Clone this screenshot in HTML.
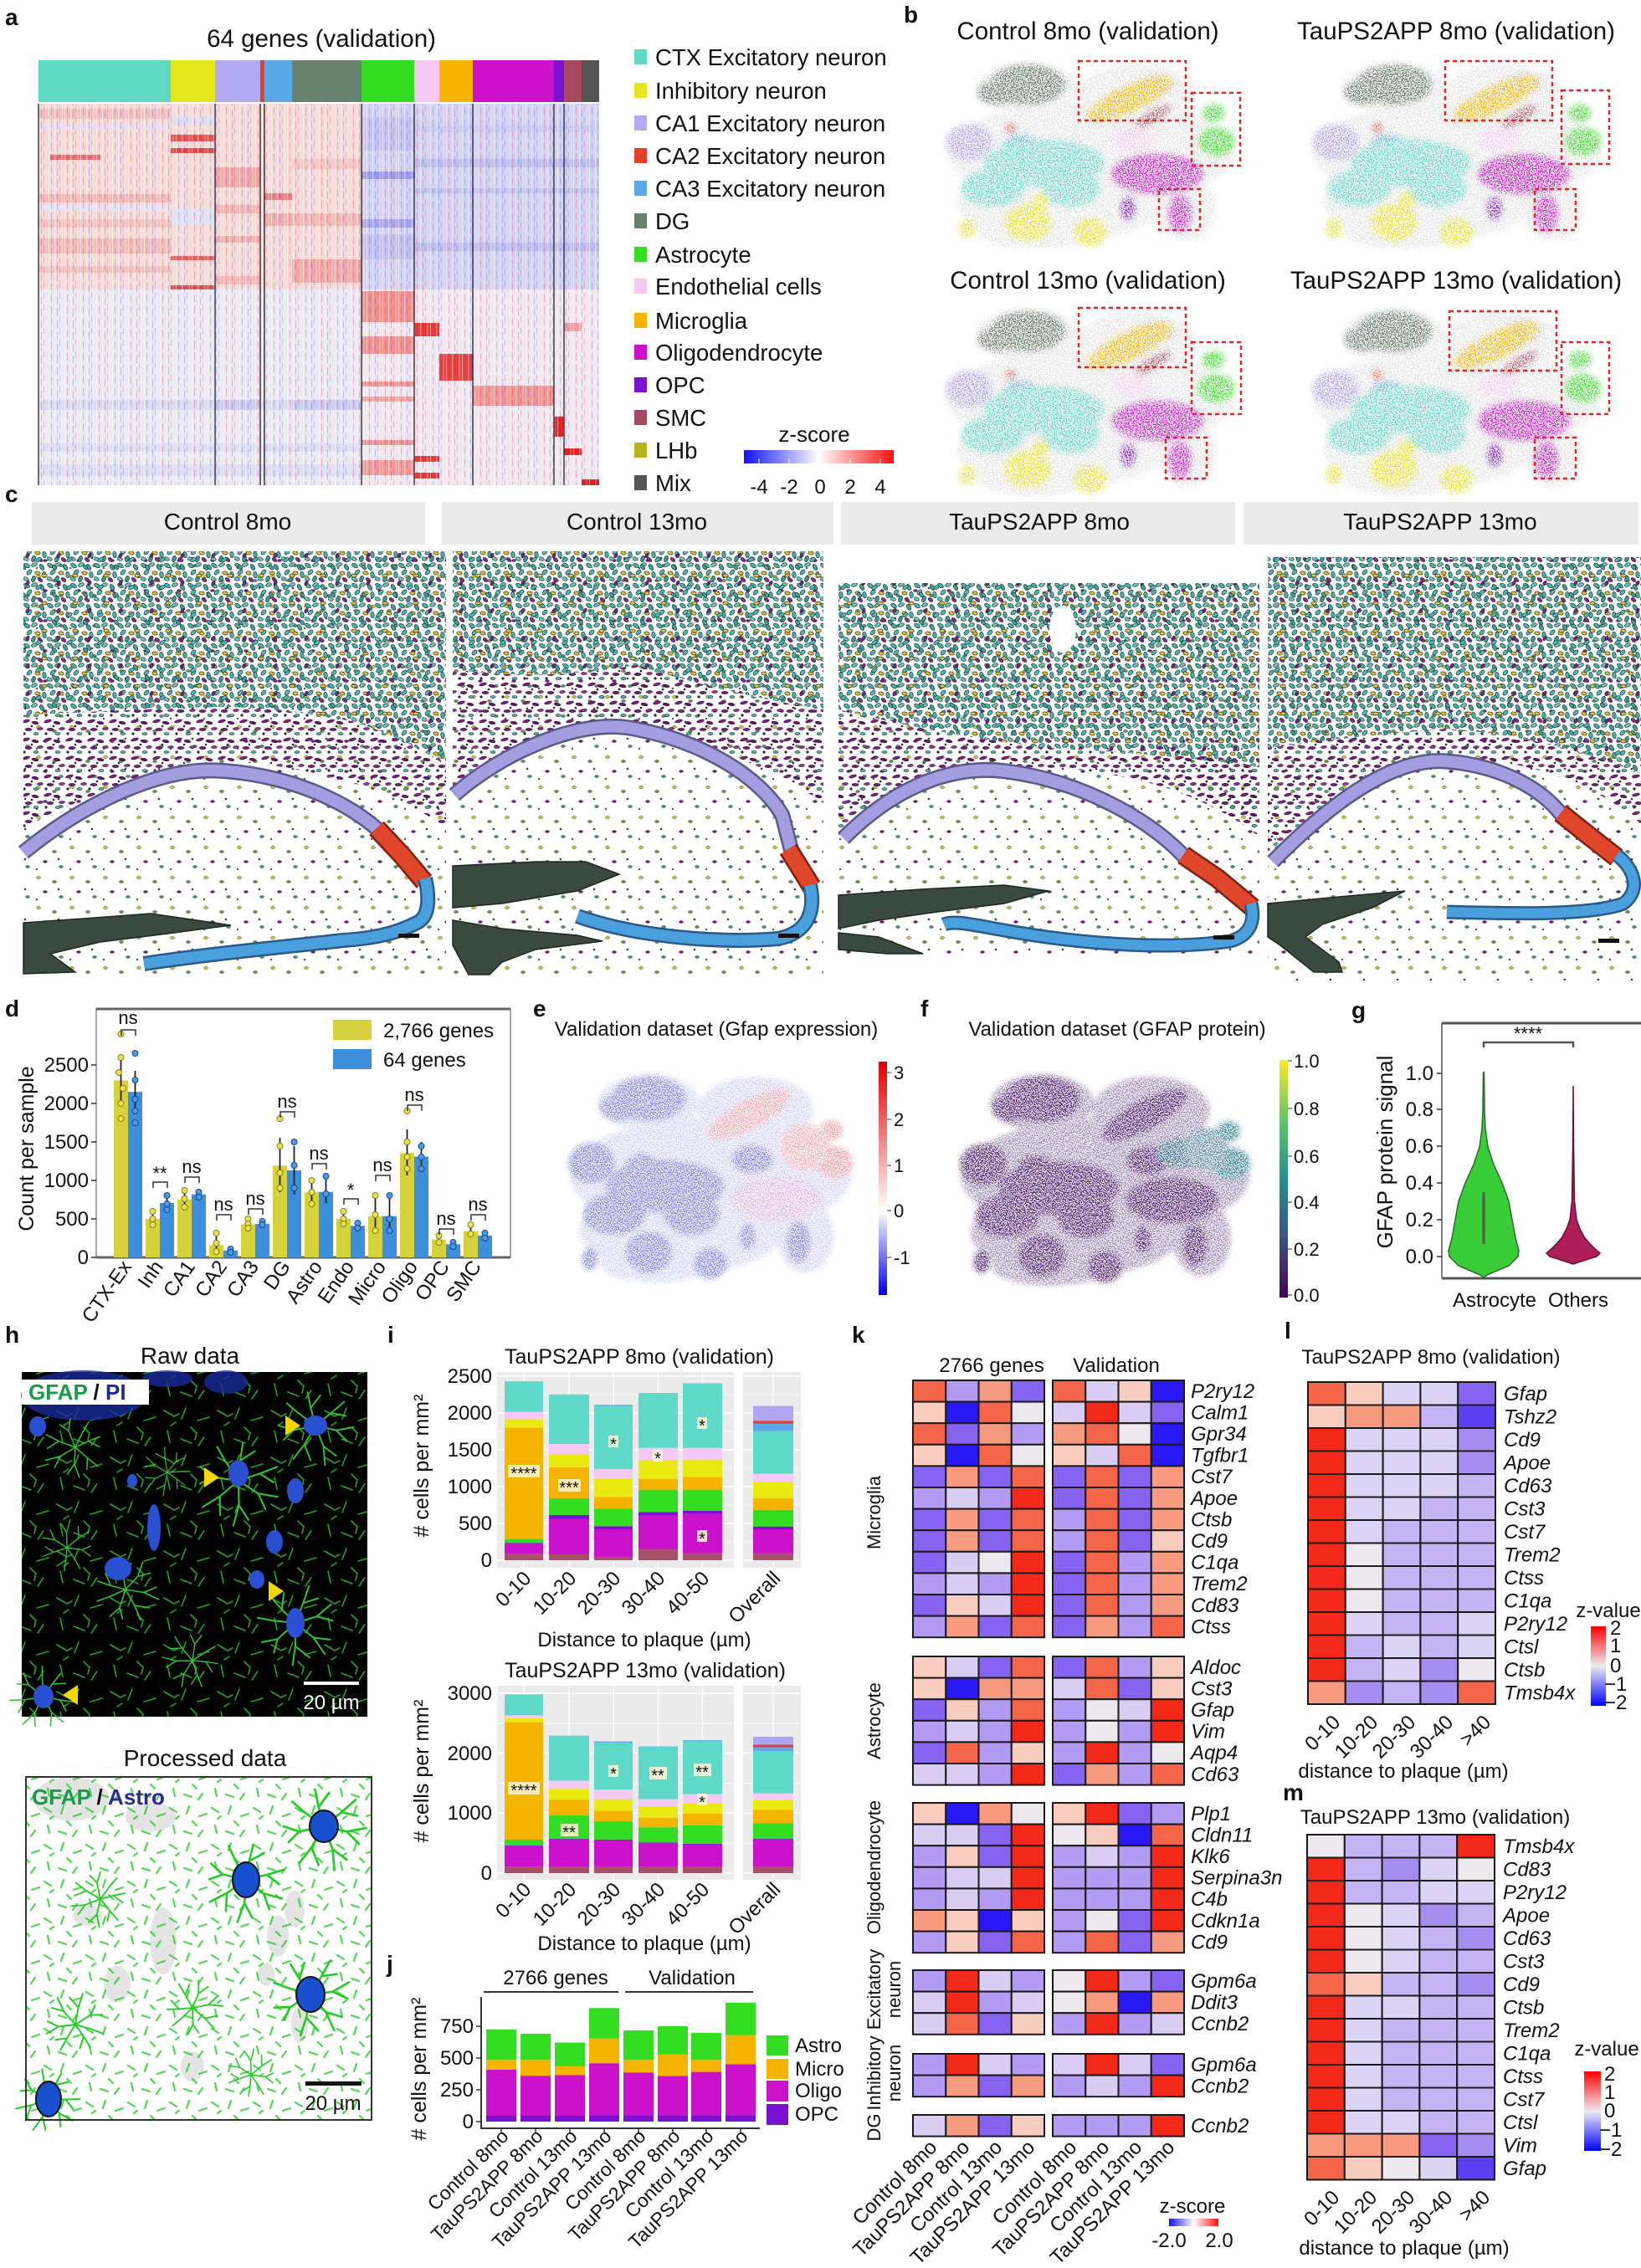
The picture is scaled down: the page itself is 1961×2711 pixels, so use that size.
<!DOCTYPE html>
<html><head><meta charset="utf-8"><style>
html,body{margin:0;padding:0;background:#fff}
svg{display:block}
text{font-family:"Liberation Sans",Arial,sans-serif;fill:#111}
.lab{font-weight:bold;font-size:28px}
.t30{font-size:29.5px}.t28{font-size:28px}.t27{font-size:27.5px}.t26{font-size:26px}.t25{font-size:25px}.t24{font-size:24px}.t23{font-size:23px}.t22{font-size:22px}.t20{font-size:20px}
.it{font-style:italic}.mid{text-anchor:middle}.end{text-anchor:end}
.hm rect{stroke:#1a1a1a;stroke-width:2}
.B{fill:#2a18f4}.b{fill:#8763f1}.p{fill:#b39af2}.l{fill:#d9cdf3}.w{fill:#ece8ee}.k{fill:#f8ccbe}.s{fill:#f89a80}.o{fill:#f5654a}.r{fill:#f22818}
.ll{fill:#dcd4f5}.lp{fill:#c4b4f3}.lb{fill:#a58cef}.lB{fill:#5b3ff0}
</style></head><body>
<svg width="1961" height="2711" viewBox="0 0 1961 2711" xmlns="http://www.w3.org/2000/svg" xmlns:xlink="http://www.w3.org/1999/xlink">
<defs>
<pattern id="hmtex" width="19" height="14" patternUnits="userSpaceOnUse">
<rect x="1" y="0" width="1" height="14" fill="#fff" opacity=".55"/>
<rect x="4" y="2" width="1" height="9" fill="#e03a3a" opacity=".3"/>
<rect x="8" y="0" width="1.3" height="14" fill="#fff" opacity=".45"/>
<rect x="11" y="5" width="1" height="9" fill="#3a3ae0" opacity=".25"/>
<rect x="14" y="0" width="1" height="7" fill="#e03a3a" opacity=".25"/>
<rect x="16.5" y="0" width="1" height="14" fill="#fff" opacity=".4"/>
</pattern>
<pattern id="ctxp" width="28" height="24" patternUnits="userSpaceOnUse">
<g stroke="#2a2a3a" stroke-width=".7">
<ellipse cx="4" cy="4" rx="3.8" ry="2.2" fill="#3fb8a8" transform="rotate(35 4 4)"/>
<ellipse cx="13" cy="3" rx="3.6" ry="2.1" fill="#5cc9bb" transform="rotate(-20 13 3)"/>
<ellipse cx="22" cy="6" rx="3.8" ry="2.2" fill="#35a898" transform="rotate(60 22 6)"/>
<ellipse cx="7" cy="12" rx="3.6" ry="2.2" fill="#48bfb0" transform="rotate(-45 7 12)"/>
<ellipse cx="17" cy="13" rx="3.2" ry="2" fill="#d8c820" transform="rotate(10 17 13)"/>
<ellipse cx="25" cy="15" rx="3.7" ry="2.2" fill="#3fb8a8" transform="rotate(80 25 15)"/>
<ellipse cx="3" cy="20" rx="3.4" ry="2.1" fill="#5cc9bb" transform="rotate(20 3 20)"/>
<ellipse cx="12" cy="20" rx="3.8" ry="2.2" fill="#2fa090" transform="rotate(-70 12 20)"/>
<ellipse cx="20" cy="21" rx="3.2" ry="1.9" fill="#8a2a90" transform="rotate(40 20 21)"/>
</g></pattern>
<pattern id="ctxq" width="37" height="33" patternUnits="userSpaceOnUse">
<g stroke="#2a2a3a" stroke-width=".7">
<ellipse cx="9" cy="9" rx="3.6" ry="2.1" fill="#45bcae" transform="rotate(-30 9 9)"/>
<ellipse cx="28" cy="18" rx="3.4" ry="2" fill="#3aa99a" transform="rotate(50 28 18)"/>
<ellipse cx="16" cy="28" rx="3.2" ry="2" fill="#e0c830" transform="rotate(0 16 28)"/>
<ellipse cx="33" cy="4" rx="3" ry="1.8" fill="#7a2080" transform="rotate(-60 33 4)"/>
</g></pattern>
<pattern id="wmp" width="26" height="22" patternUnits="userSpaceOnUse">
<g stroke="#2a1030" stroke-width=".6">
<ellipse cx="5" cy="4" rx="4.5" ry="1.6" fill="#8c1a8c" transform="rotate(-15 5 4)"/>
<ellipse cx="16" cy="6" rx="4" ry="1.6" fill="#6e127a" transform="rotate(10 16 6)"/>
<ellipse cx="22" cy="13" rx="3.5" ry="1.5" fill="#9a2aa0" transform="rotate(-5 22 13)"/>
<ellipse cx="8" cy="14" rx="4" ry="1.6" fill="#7a1a80"/>
<ellipse cx="17" cy="19" rx="3" ry="1.5" fill="#3fb8a8"/>
<circle cx="3" cy="19" r="1.3" fill="#333"/>
<circle cx="12" cy="10" r="1" fill="#333"/>
</g></pattern>
<pattern id="spp" width="40" height="36" patternUnits="userSpaceOnUse">
<g stroke="#333" stroke-width=".5">
<ellipse cx="6" cy="5" rx="2.5" ry="1.5" fill="#d0c820"/>
<ellipse cx="25" cy="10" rx="2.5" ry="1.5" fill="#5a9a40"/>
<ellipse cx="14" cy="22" rx="2.5" ry="1.5" fill="#7a1a80"/>
<ellipse cx="33" cy="28" rx="2.5" ry="1.5" fill="#3a9a70"/>
<circle cx="30" cy="19" r="1.1" fill="#444"/>
<circle cx="4" cy="31" r="1" fill="#8a7a30"/>
</g></pattern>
<pattern id="fibR" width="64" height="56" patternUnits="userSpaceOnUse">
<path d="M4,6 l12,7 l6,-3 M30,3 l-5,13 M44,18 l14,-4 M8,30 l3,14 M24,40 l13,5 M52,38 l-7,10 M36,26 l7,7 l-2,8 M18,20 l-6,4" stroke="#28a028" stroke-width="1.6" fill="none" stroke-linecap="round"/>
</pattern>
<pattern id="fibP" width="50" height="44" patternUnits="userSpaceOnUse">
<path d="M3,5 l8,5 M26,3 l-3,9 M38,15 l9,-3 M7,26 l2,9 M20,33 l9,3 M42,32 l-5,7 M30,21 l5,5 M14,15 l-4,3" stroke="#22cc22" stroke-width="2.2" fill="none" stroke-linecap="round"/>
</pattern>
<g id="ast"><path fill="none" d="M0,0 L-6,-22 L-10,-42 M-6,-22 L6,-38 M0,0 L20,-16 L36,-30 M20,-16 L38,-12 M0,0 L26,6 L48,2 M26,6 L40,20 M0,0 L10,26 L12,50 M10,26 L26,38 M0,0 L-14,24 L-28,42 M-14,24 L-6,44 M0,0 L-28,6 L-46,0 M-28,6 L-40,18 M0,0 L-22,-16 L-36,-28"/></g>
<filter id="spkB" filterUnits="userSpaceOnUse" x="1110" y="65" width="851" height="545" color-interpolation-filters="sRGB">
<feGaussianBlur in="SourceGraphic" stdDeviation="3.5" result="bl"/>
<feTurbulence type="fractalNoise" baseFrequency="0.7" numOctaves="1" seed="4" result="n"/>
<feColorMatrix in="n" type="matrix" values="0 0 0 0 0  0 0 0 0 0  0 0 0 0 0  6 0 0 0 -2.6" result="m"/>
<feComposite in="bl" in2="m" operator="in"/>
</filter>
<filter id="spkE" filterUnits="userSpaceOnUse" x="660" y="1270" width="860" height="280" color-interpolation-filters="sRGB">
<feGaussianBlur in="SourceGraphic" stdDeviation="3" result="bl"/>
<feTurbulence type="fractalNoise" baseFrequency="0.75" numOctaves="1" seed="7" result="n"/>
<feColorMatrix in="n" type="matrix" values="0 0 0 0 0  0 0 0 0 0  0 0 0 0 0  6 0 0 0 -2.5" result="m"/>
<feComposite in="bl" in2="m" operator="in"/>
</filter>
<g id="umbg">
<ellipse cx="100" cy="32" rx="62" ry="30"/><ellipse cx="230" cy="40" rx="70" ry="36"/><ellipse cx="175" cy="110" rx="172" ry="62"/><ellipse cx="140" cy="170" rx="125" ry="45"/><ellipse cx="110" cy="205" rx="70" ry="20"/><ellipse cx="290" cy="175" rx="35" ry="40"/>
</g>
<g id="umcl">
<ellipse cx="100" cy="28" rx="45" ry="24"/><ellipse cx="62" cy="38" rx="22" ry="14"/><ellipse cx="222" cy="45" rx="55" ry="16" transform="rotate(-25 222 45)"/><ellipse cx="322" cy="62" rx="14" ry="11"/><ellipse cx="326" cy="96" rx="22" ry="17"/><ellipse cx="30" cy="97" rx="28" ry="22"/><ellipse cx="92" cy="104" rx="22" ry="17"/><ellipse cx="226" cy="93" rx="25" ry="15"/><ellipse cx="120" cy="122" rx="72" ry="28"/><ellipse cx="58" cy="152" rx="38" ry="22"/><ellipse cx="152" cy="152" rx="34" ry="22"/><ellipse cx="255" cy="135" rx="55" ry="24"/><ellipse cx="282" cy="182" rx="14" ry="22"/><ellipse cx="220" cy="176" rx="9" ry="14"/><ellipse cx="28" cy="200" rx="10" ry="12"/><ellipse cx="100" cy="193" rx="28" ry="22"/><ellipse cx="175" cy="205" rx="20" ry="17"/>
</g>
<g id="um">
<use xlink:href="#umbg" fill="#cfcfcf" opacity=".6"/>
<ellipse cx="100" cy="28" rx="45" ry="24" fill="#5f7063"/>
<ellipse cx="62" cy="38" rx="22" ry="14" fill="#5f7063"/>
<ellipse cx="255" cy="28" rx="22" ry="14" fill="#c4c4c4"/>
<ellipse cx="222" cy="45" rx="55" ry="16" fill="#f2b000" transform="rotate(-25 222 45)"/>
<ellipse cx="250" cy="66" rx="24" ry="7" fill="#a84860" transform="rotate(-30 250 66)"/>
<ellipse cx="322" cy="62" rx="14" ry="11" fill="#33dd22"/>
<ellipse cx="326" cy="96" rx="22" ry="17" fill="#33dd22"/>
<ellipse cx="30" cy="97" rx="28" ry="22" fill="#a99ff2"/>
<ellipse cx="92" cy="104" rx="22" ry="17" fill="#5aa8e8"/>
<circle cx="80" cy="80" r="6" fill="#e04030"/>
<ellipse cx="226" cy="93" rx="25" ry="15" fill="#eec6ec"/>
<ellipse cx="120" cy="122" rx="72" ry="28" fill="#5fd4c4"/>
<ellipse cx="58" cy="152" rx="38" ry="22" fill="#5fd4c4"/>
<ellipse cx="152" cy="152" rx="34" ry="22" fill="#5fd4c4"/>
<ellipse cx="255" cy="135" rx="55" ry="24" fill="#cc10cc"/>
<ellipse cx="282" cy="182" rx="14" ry="22" fill="#cc10cc"/>
<ellipse cx="220" cy="176" rx="9" ry="14" fill="#7a10c8"/>
<g fill="#e4de22"><ellipse cx="28" cy="200" rx="10" ry="12"/><ellipse cx="100" cy="193" rx="28" ry="22"/><ellipse cx="175" cy="205" rx="20" ry="17"/><ellipse cx="115" cy="168" rx="10" ry="10"/></g>
</g>
<linearGradient id="gZ" x1="0" y1="0" x2="1" y2="0"><stop offset="0" stop-color="#1010ff"/><stop offset=".5" stop-color="#ffffff"/><stop offset="1" stop-color="#ff1010"/></linearGradient>
<linearGradient id="gL" x1="0" y1="0" x2="0" y2="1"><stop offset="0" stop-color="#ff0000"/><stop offset=".5" stop-color="#eeeaf2"/><stop offset="1" stop-color="#0000ff"/></linearGradient>
<linearGradient id="gE" x1="0" y1="0" x2="0" y2="1"><stop offset="0" stop-color="#dd0000"/><stop offset=".64" stop-color="#ffffff"/><stop offset="1" stop-color="#0000dd"/></linearGradient>
<linearGradient id="gV" x1="0" y1="0" x2="0" y2="1"><stop offset="0" stop-color="#fde725"/><stop offset=".25" stop-color="#5ec962"/><stop offset=".5" stop-color="#21918c"/><stop offset=".75" stop-color="#3b528b"/><stop offset="1" stop-color="#440154"/></linearGradient>
</defs>
<rect width="1961" height="2711" fill="#fff"/>

<!-- ===== Panel a ===== -->
<text class="lab" x="6" y="30">a</text>
<text class="t30 mid" x="384" y="56">64 genes (validation)</text>
<rect x="46" y="72" width="158" height="50" fill="#5fd9c4"/>
<rect x="204" y="72" width="53" height="50" fill="#e6e61c"/>
<rect x="257" y="72" width="54" height="50" fill="#b3a9f2"/>
<rect x="311" y="72" width="5" height="50" fill="#e4402a"/>
<rect x="316" y="72" width="33" height="50" fill="#5aa8e6"/>
<rect x="349" y="72" width="83" height="50" fill="#66806c"/>
<rect x="432" y="72" width="63" height="50" fill="#33dd22"/>
<rect x="495" y="72" width="30" height="50" fill="#f6c8f2"/>
<rect x="525" y="72" width="40" height="50" fill="#f6b400"/>
<rect x="565" y="72" width="97" height="50" fill="#cc10cc"/>
<rect x="662" y="72" width="12" height="50" fill="#7a12d2"/>
<rect x="674" y="72" width="21" height="50" fill="#a84860"/>
<rect x="695" y="72" width="21" height="50" fill="#555555"/>
<rect x="46" y="124" width="386" height="222" fill="#f5dada"/>
<rect x="432" y="124" width="284" height="222" fill="#d2d2f4"/>
<rect x="46" y="346" width="386" height="234" fill="#eae8f5"/>
<rect x="432" y="346" width="284" height="234" fill="#efe6ef"/>
<g>
<rect x="46" y="130" width="158" height="12" fill="#f0c0c0"/><rect x="60" y="185" width="60" height="6" fill="#e87070"/><rect x="46" y="232" width="158" height="10" fill="#f0b8b8"/><rect x="46" y="262" width="158" height="10" fill="#f2c2c2"/><rect x="46" y="285" width="158" height="18" fill="#f0bcbc"/><rect x="46" y="318" width="158" height="8" fill="#f0c0c0"/><rect x="46" y="150" width="158" height="6" fill="#e6dcf0"/><rect x="46" y="245" width="158" height="6" fill="#e4e0f5"/>
<rect x="204" y="140" width="53" height="10" fill="#dcdcf4"/><rect x="204" y="250" width="53" height="20" fill="#e0e0f4"/><rect x="204" y="161" width="53" height="8" fill="#e85050"/><rect x="204" y="177" width="53" height="6" fill="#e04848"/><rect x="204" y="306" width="53" height="5" fill="#e06060"/><rect x="204" y="341" width="53" height="5" fill="#e05050"/>
<rect x="257" y="200" width="54" height="24" fill="#f0a8a8"/><rect x="257" y="245" width="54" height="10" fill="#f2b4b4"/><rect x="257" y="282" width="54" height="8" fill="#f0b0b0"/><rect x="257" y="330" width="54" height="10" fill="#f4b8b8"/>
<rect x="316" y="231" width="33" height="8" fill="#e88080"/><rect x="316" y="255" width="33" height="15" fill="#f0b0b0"/>
<rect x="349" y="255" width="83" height="15" fill="#f2b8b8"/><rect x="349" y="310" width="83" height="28" fill="#f0a8a8"/><rect x="349" y="190" width="83" height="12" fill="#f4c4c4"/>
<rect x="432" y="140" width="63" height="40" fill="#c4c4f4"/><rect x="432" y="280" width="63" height="30" fill="#c0c0f2"/><rect x="432" y="205" width="63" height="9" fill="#9a9af0"/><rect x="432" y="262" width="63" height="10" fill="#a4a4f0"/>
<rect x="495" y="190" width="221" height="10" fill="#bcbcf2"/><rect x="495" y="225" width="221" height="6" fill="#c0c0f2"/><rect x="495" y="290" width="221" height="10" fill="#bcbcf2"/><rect x="495" y="150" width="221" height="8" fill="#c8c8f4"/>
<rect x="432" y="348" width="63" height="37" fill="#f29090"/><rect x="432" y="402" width="63" height="21" fill="#f29090"/><rect x="432" y="456" width="63" height="6" fill="#f29090"/><rect x="432" y="474" width="63" height="6" fill="#f0a0a0"/><rect x="432" y="526" width="63" height="6" fill="#f29090"/><rect x="432" y="550" width="63" height="18" fill="#f29898"/>
<rect x="495" y="386" width="30" height="16" fill="#e83838"/><rect x="495" y="545" width="30" height="7" fill="#e83838"/><rect x="495" y="565" width="30" height="7" fill="#e83838"/>
<rect x="525" y="423" width="40" height="32" fill="#e84040"/>
<rect x="565" y="461" width="97" height="24" fill="#f09494"/>
<rect x="662" y="498" width="12" height="24" fill="#e82020"/>
<rect x="674" y="536" width="21" height="8" fill="#e82020"/><rect x="674" y="386" width="21" height="10" fill="#f0a0a0"/>
<rect x="695" y="573" width="21" height="7" fill="#e02020"/>
<rect x="46" y="478" width="386" height="12" fill="#d8d8f2"/><rect x="46" y="530" width="386" height="10" fill="#dcdcf4"/><rect x="46" y="555" width="386" height="14" fill="#dcdcf4"/><rect x="257" y="478" width="54" height="12" fill="#c8c8f0"/><rect x="349" y="478" width="83" height="12" fill="#c8c8f0"/>
</g>
<rect x="46" y="124" width="670" height="456" fill="url(#hmtex)"/>
<g stroke="#222" stroke-width="1.3"><path d="M46,124V580M257,124V580M311,124V580M316,124V580M432,124V580M495,124V580M565,124V580M662,124V580M674,124V580"/></g>
<g class="t27">
<rect x="758" y="59" width="15" height="18" fill="#5fd9c4"/><text x="783" y="78">CTX Excitatory neuron</text>
<rect x="758" y="99" width="15" height="18" fill="#e6e61c"/><text x="783" y="118">Inhibitory neuron</text>
<rect x="758" y="138" width="15" height="18" fill="#b3a9f2"/><text x="783" y="157">CA1 Excitatory neuron</text>
<rect x="758" y="177" width="15" height="18" fill="#e4402a"/><text x="783" y="196">CA2 Excitatory neuron</text>
<rect x="758" y="216" width="15" height="18" fill="#5aa8e6"/><text x="783" y="235">CA3 Excitatory neuron</text>
<rect x="758" y="255" width="15" height="18" fill="#66806c"/><text x="783" y="274">DG</text>
<rect x="758" y="295" width="15" height="18" fill="#33dd22"/><text x="783" y="314">Astrocyte</text>
<rect x="758" y="333" width="15" height="18" fill="#f6c8f2"/><text x="783" y="352">Endothelial cells</text>
<rect x="758" y="374" width="15" height="18" fill="#f6b400"/><text x="783" y="393">Microglia</text>
<rect x="758" y="412" width="15" height="18" fill="#cc10cc"/><text x="783" y="431">Oligodendrocyte</text>
<rect x="758" y="451" width="15" height="18" fill="#7a12d2"/><text x="783" y="470">OPC</text>
<rect x="758" y="490" width="15" height="18" fill="#a84860"/><text x="783" y="509">SMC</text>
<rect x="758" y="529" width="15" height="18" fill="#b5b520"/><text x="783" y="548">LHb</text>
<rect x="758" y="568" width="15" height="18" fill="#555555"/><text x="783" y="587">Mix</text>
</g>
<text class="t26 mid" x="973" y="528">z-score</text>
<rect x="889" y="538" width="179" height="16" fill="url(#gZ)"/>
<g stroke="#fff" stroke-width="1"><path d="M907,548v6M943,548v6M980,548v6M1016,548v6M1052,548v6"/></g>
<g class="t24 mid"><text x="907" y="590">-4</text><text x="943" y="590">-2</text><text x="980" y="590">0</text><text x="1016" y="590">2</text><text x="1052" y="590">4</text></g>

<!-- ===== Panel b ===== -->
<text class="lab" x="1080" y="27">b</text>
<g class="t30 mid">
<text x="1300" y="47">Control 8mo (validation)</text>
<text x="1740" y="47">TauPS2APP 8mo (validation)</text>
<text x="1300" y="345">Control 13mo (validation)</text>
<text x="1740" y="345">TauPS2APP 13mo (validation)</text>
</g>
<g filter="url(#spkB)">
<use xlink:href="#um" x="1128" y="73"/>
<use xlink:href="#um" x="1566" y="73"/>
<use xlink:href="#um" x="1128" y="368"/>
<use xlink:href="#um" x="1566" y="368"/>
</g>
<g fill="none" stroke="#e02525" stroke-width="2.5" stroke-dasharray="5,4">
<rect x="1289" y="73" width="128" height="71"/><rect x="1424" y="111" width="58" height="87"/><rect x="1385" y="226" width="49" height="49"/>
<rect x="1727" y="73" width="128" height="71"/><rect x="1866" y="108" width="57" height="88"/><rect x="1834" y="226" width="49" height="49"/>
<rect x="1289" y="368" width="128" height="71"/><rect x="1424" y="409" width="59" height="86"/><rect x="1393" y="523" width="49" height="49"/>
<rect x="1732" y="372" width="128" height="71"/><rect x="1866" y="409" width="57" height="86"/><rect x="1834" y="523" width="49" height="49"/>
</g>

<!-- ===== Panel c ===== -->
<text class="lab" x="6" y="600">c</text>
<g fill="#ebebeb"><rect x="38" y="600" width="470" height="51"/><rect x="528" y="600" width="468" height="51"/><rect x="1005" y="600" width="471" height="51"/><rect x="1486" y="600" width="472" height="51"/></g>
<g class="t28 mid"><text x="272" y="633">Control 8mo</text><text x="761" y="633">Control 13mo</text><text x="1242" y="633">TauPS2APP 8mo</text><text x="1721" y="633">TauPS2APP 13mo</text></g>
<!-- image 1 -->
<rect x="28" y="659" width="505" height="506" fill="url(#spp)"/>
<path d="M28,659H533V915Q480,880 420,862Q330,845 263,845Q150,848 28,855Z" fill="url(#ctxp)"/>
<path d="M28,659H533V915Q480,880 420,862Q330,845 263,845Q150,848 28,855Z" fill="url(#ctxq)"/>
<path d="M28,855Q150,848 263,845Q330,845 420,862Q480,880 533,915V990Q480,950 400,930Q300,905 240,912Q130,935 28,990Z" fill="url(#wmp)"/>
<path d="M28,1019C100,960 190,918 259,921C340,925 410,955 452,992" fill="none" stroke="#5a5a8a" stroke-width="19"/>
<path d="M28,1019C100,960 190,918 259,921C340,925 410,955 452,992" fill="none" stroke="#a49ee0" stroke-width="14"/>
<path d="M450,990L480,1022L507,1054" fill="none" stroke="#802010" stroke-width="24"/>
<path d="M450,990L480,1022L507,1054" fill="none" stroke="#e0462a" stroke-width="19"/>
<path d="M508,1050C514,1075 512,1095 500,1102C470,1118 440,1122 410,1124C340,1132 250,1140 172,1152" fill="none" stroke="#2a5a8a" stroke-width="18"/>
<path d="M508,1050C514,1075 512,1095 500,1102C470,1118 440,1122 410,1124C340,1132 250,1140 172,1152" fill="none" stroke="#4aa0dc" stroke-width="13"/>
<polygon points="28,1103 100,1098 180,1092 276,1106 200,1116 120,1126 60,1140 90,1162 28,1164" fill="#3a4a40" stroke="#1a2a20" stroke-width="1.5"/>
<rect x="476" y="1116" width="25" height="5" fill="#111"/>
<!-- image 2 -->
<rect x="541" y="659" width="443" height="506" fill="url(#spp)"/>
<path d="M541,659H984V848Q870,830 760,795Q650,815 541,800Z" fill="url(#ctxp)"/>
<path d="M541,659H984V848Q870,830 760,795Q650,815 541,800Z" fill="url(#ctxq)"/>
<path d="M541,800Q650,815 760,795Q870,830 984,848V960Q900,900 752,868Q640,880 541,945Z" fill="url(#wmp)"/>
<path d="M760,795Q700,820 690,860L800,865Q790,825 760,795Z" fill="url(#wmp)"/>
<path d="M543,950C600,900 690,860 752,870C840,885 910,930 935,975L946,1018" fill="none" stroke="#5a5a8a" stroke-width="19"/>
<path d="M543,950C600,900 690,860 752,870C840,885 910,930 935,975L946,1018" fill="none" stroke="#a49ee0" stroke-width="14"/>
<path d="M942,1015L970,1060" fill="none" stroke="#802010" stroke-width="24"/>
<path d="M942,1015L970,1060" fill="none" stroke="#e0462a" stroke-width="19"/>
<path d="M968,1058C975,1090 965,1115 930,1122C860,1128 760,1120 690,1095" fill="none" stroke="#2a5a8a" stroke-width="18"/>
<path d="M968,1058C975,1090 965,1115 930,1122C860,1128 760,1120 690,1095" fill="none" stroke="#4aa0dc" stroke-width="13"/>
<polygon points="541,1035 640,1030 700,1030 740,1045 690,1065 600,1080 541,1085" fill="#3a4a40" stroke="#1a2a20" stroke-width="1.5"/>
<polygon points="541,1100 600,1110 690,1118 720,1125 640,1135 600,1150 585,1165 560,1165 541,1130" fill="#3a4a40" stroke="#1a2a20" stroke-width="1.5"/>
<rect x="930" y="1116" width="25" height="5" fill="#111"/>
<!-- image 3 -->
<rect x="1002" y="697" width="503" height="443" fill="url(#spp)"/>
<path d="M1002,697H1505V917Q1380,900 1253,894Q1130,880 1002,848Z" fill="url(#ctxp)"/>
<path d="M1002,697H1505V917Q1380,900 1253,894Q1130,880 1002,848Z" fill="url(#ctxq)"/>
<ellipse cx="1270" cy="752" rx="16" ry="28" fill="#fff"/>
<path d="M1002,848Q1130,880 1253,894Q1380,900 1505,917V1000Q1440,950 1350,930Q1203,900 1100,940Q1040,965 1002,1000Z" fill="url(#wmp)"/>
<path d="M1378,890Q1440,900 1505,917V1000Q1470,960 1420,940Z" fill="url(#wmp)"/>
<path d="M1008,1002C1080,930 1150,915 1203,922C1300,935 1380,985 1416,1025" fill="none" stroke="#5a5a8a" stroke-width="19"/>
<path d="M1008,1002C1080,930 1150,915 1203,922C1300,935 1380,985 1416,1025" fill="none" stroke="#a49ee0" stroke-width="14"/>
<path d="M1414,1022L1455,1050L1497,1085" fill="none" stroke="#802010" stroke-width="24"/>
<path d="M1414,1022L1455,1050L1497,1085" fill="none" stroke="#e0462a" stroke-width="19"/>
<path d="M1495,1080C1500,1100 1495,1118 1470,1125C1400,1135 1300,1130 1200,1112C1160,1105 1140,1100 1128,1105" fill="none" stroke="#2a5a8a" stroke-width="17"/>
<path d="M1495,1080C1500,1100 1495,1118 1470,1125C1400,1135 1300,1130 1200,1112C1160,1105 1140,1100 1128,1105" fill="none" stroke="#4aa0dc" stroke-width="12"/>
<polygon points="1002,1070 1100,1063 1200,1058 1253,1065 1200,1080 1120,1090 1050,1100 1002,1110" fill="#3a4a40" stroke="#1a2a20" stroke-width="1.5"/>
<polygon points="1002,1115 1050,1120 1103,1140 1060,1140 1002,1135" fill="#3a4a40" stroke="#1a2a20" stroke-width="1.5"/>
<rect x="1450" y="1118" width="25" height="5" fill="#111"/>
<!-- image 4 -->
<rect x="1515" y="666" width="446" height="506" fill="url(#spp)"/>
<path d="M1515,666H1961V925Q1850,880 1729,871Q1620,880 1515,894Z" fill="url(#ctxp)"/>
<path d="M1515,666H1961V925Q1850,880 1729,871Q1620,880 1515,894Z" fill="url(#ctxq)"/>
<path d="M1515,894Q1620,880 1729,871Q1850,880 1961,925V985Q1900,930 1800,912Q1729,900 1650,930Q1570,970 1515,1020Z" fill="url(#wmp)"/>
<path d="M1521,1030C1600,950 1670,905 1729,910C1790,915 1840,940 1867,975" fill="none" stroke="#5a5a8a" stroke-width="19"/>
<path d="M1521,1030C1600,950 1670,905 1729,910C1790,915 1840,940 1867,975" fill="none" stroke="#a49ee0" stroke-width="14"/>
<path d="M1865,972L1900,1000L1932,1025" fill="none" stroke="#802010" stroke-width="24"/>
<path d="M1865,972L1900,1000L1932,1025" fill="none" stroke="#e0462a" stroke-width="19"/>
<path d="M1932,1022C1955,1040 1960,1065 1940,1080C1900,1095 1800,1092 1729,1090" fill="none" stroke="#2a5a8a" stroke-width="17"/>
<path d="M1932,1022C1955,1040 1960,1065 1940,1080C1900,1095 1800,1092 1729,1090" fill="none" stroke="#4aa0dc" stroke-width="12"/>
<polygon points="1515,1080 1600,1072 1679,1065 1640,1085 1580,1105 1560,1120 1600,1150 1604,1162 1570,1162 1530,1130 1515,1120" fill="#3a4a40" stroke="#1a2a20" stroke-width="1.5"/>
<rect x="1910" y="1122" width="25" height="5" fill="#111"/>

<!-- ===== Panel d ===== -->
<text class="lab" x="6" y="1215">d</text>
<rect x="115" y="1206" width="495" height="297" fill="none" stroke="#888" stroke-width="1.5"/>
<path d="M115,1206H610M115,1503H610" stroke="#666" stroke-width="3"/>
<g stroke="#333" stroke-width="1.5"><path d="M109,1503h6M109,1457h6M109,1411h6M109,1365h6M109,1319h6M109,1273h6"/></g>
<g class="t24 end"><text x="106" y="1511">0</text><text x="106" y="1465">500</text><text x="106" y="1419">1000</text><text x="106" y="1373">1500</text><text x="106" y="1327">2000</text><text x="106" y="1281">2500</text></g>
<text class="t25 mid" transform="translate(40,1373) rotate(-90)">Count per sample</text>
<g fill="#d6d23e">
<rect x="136" y="1291.4" width="17" height="211.6"/><rect x="174" y="1457" width="17" height="46"/><rect x="212" y="1434" width="17" height="69"/><rect x="250" y="1488.3" width="17" height="14.7"/><rect x="288" y="1463.4" width="17" height="39.6"/><rect x="326" y="1393.5" width="17" height="109.5"/><rect x="364" y="1425.2" width="17" height="77.8"/><rect x="402" y="1457" width="17" height="46"/><rect x="440" y="1453.8" width="17" height="49.2"/><rect x="478" y="1378.2" width="17" height="124.8"/><rect x="516" y="1481.7" width="17" height="21.3"/><rect x="554" y="1471.7" width="17" height="31.3"/>
</g>
<g fill="#3d8fdb">
<rect x="153" y="1305.2" width="17" height="197.8"/><rect x="191" y="1438" width="17" height="65"/><rect x="229" y="1427.6" width="17" height="75.4"/><rect x="267" y="1494.7" width="17" height="8.3"/><rect x="305" y="1462.9" width="17" height="40.1"/><rect x="343" y="1399" width="17" height="104"/><rect x="381" y="1424.8" width="17" height="78.2"/><rect x="419" y="1465.3" width="17" height="37.7"/><rect x="457" y="1453.8" width="17" height="49.2"/><rect x="495" y="1382.5" width="17" height="120.5"/><rect x="533" y="1487.3" width="17" height="15.7"/><rect x="571" y="1476.8" width="17" height="26.2"/>
</g>
<g stroke="#222" stroke-width="1.8"><path d="M144.5,1262V1320M161.5,1280V1330M182.5,1450V1464M199.5,1430V1446M220.5,1424V1443M237.5,1422V1433M258.5,1478V1497M296.5,1457V1468M334.5,1360V1425M351.5,1370V1428M372.5,1412V1438M389.5,1410V1438M410.5,1450V1462M427.5,1460V1470M448.5,1432V1472M465.5,1432V1472M486.5,1350V1405M503.5,1365V1400M524.5,1476V1487M562.5,1464V1478M579.5,1472V1482"/></g>
<g fill="#ebe34a" stroke="#8a7a20" stroke-width="1">
<circle cx="144.5" cy="1236" r="3.5"/><circle cx="144.5" cy="1264" r="3.5"/><circle cx="142" cy="1282" r="3.5"/><circle cx="147" cy="1301" r="3.5"/><circle cx="144.5" cy="1319" r="3.5"/><circle cx="144.5" cy="1337" r="3.5"/>
<circle cx="182.5" cy="1448" r="3.5"/><circle cx="182.5" cy="1457" r="3.5"/><circle cx="182.5" cy="1464" r="3.5"/>
<circle cx="220.5" cy="1423" r="3.5"/><circle cx="220.5" cy="1433" r="3.5"/><circle cx="220.5" cy="1443" r="3.5"/>
<circle cx="258.5" cy="1474" r="3.5"/><circle cx="258.5" cy="1486" r="3.5"/><circle cx="258.5" cy="1496" r="3.5"/>
<circle cx="296.5" cy="1457" r="3.5"/><circle cx="296.5" cy="1463" r="3.5"/><circle cx="296.5" cy="1468" r="3.5"/>
<circle cx="334.5" cy="1337" r="3.5"/><circle cx="334.5" cy="1370" r="3.5"/><circle cx="334.5" cy="1402" r="3.5"/><circle cx="334.5" cy="1420" r="3.5"/>
<circle cx="372.5" cy="1411" r="3.5"/><circle cx="372.5" cy="1425" r="3.5"/><circle cx="372.5" cy="1439" r="3.5"/>
<circle cx="410.5" cy="1448" r="3.5"/><circle cx="410.5" cy="1457" r="3.5"/><circle cx="410.5" cy="1463" r="3.5"/>
<circle cx="448.5" cy="1429" r="3.5"/><circle cx="448.5" cy="1452" r="3.5"/><circle cx="448.5" cy="1471" r="3.5"/>
<circle cx="486.5" cy="1328" r="3.5"/><circle cx="486.5" cy="1365" r="3.5"/><circle cx="486.5" cy="1383" r="3.5"/><circle cx="486.5" cy="1397" r="3.5"/>
<circle cx="524.5" cy="1477" r="3.5"/><circle cx="524.5" cy="1485" r="3.5"/>
<circle cx="562.5" cy="1464" r="3.5"/><circle cx="562.5" cy="1475" r="3.5"/>
</g>
<g fill="#4a9ae6" stroke="#1a4a8a" stroke-width="1">
<circle cx="161.5" cy="1259" r="3.5"/><circle cx="161.5" cy="1291" r="3.5"/><circle cx="161.5" cy="1314" r="3.5"/><circle cx="161.5" cy="1328" r="3.5"/><circle cx="161.5" cy="1342" r="3.5"/>
<circle cx="199.5" cy="1429" r="3.5"/><circle cx="199.5" cy="1439" r="3.5"/><circle cx="199.5" cy="1446" r="3.5"/>
<circle cx="237.5" cy="1425" r="3.5"/><circle cx="237.5" cy="1431" r="3.5"/>
<circle cx="275.5" cy="1493" r="3.5"/><circle cx="275.5" cy="1497" r="3.5"/>
<circle cx="313.5" cy="1460" r="3.5"/><circle cx="313.5" cy="1464" r="3.5"/>
<circle cx="351.5" cy="1365" r="3.5"/><circle cx="351.5" cy="1393" r="3.5"/><circle cx="351.5" cy="1420" r="3.5"/>
<circle cx="389.5" cy="1406" r="3.5"/><circle cx="389.5" cy="1427" r="3.5"/>
<circle cx="427.5" cy="1462" r="3.5"/><circle cx="427.5" cy="1468" r="3.5"/>
<circle cx="465.5" cy="1429" r="3.5"/><circle cx="465.5" cy="1457" r="3.5"/><circle cx="465.5" cy="1471" r="3.5"/>
<circle cx="503.5" cy="1370" r="3.5"/><circle cx="503.5" cy="1383" r="3.5"/><circle cx="503.5" cy="1397" r="3.5"/>
<circle cx="541.5" cy="1485" r="3.5"/><circle cx="541.5" cy="1490" r="3.5"/>
<circle cx="579.5" cy="1474" r="3.5"/><circle cx="579.5" cy="1480" r="3.5"/>
</g>
<g fill="none" stroke="#333" stroke-width="1.5">
<path d="M145,1238v-7h17v7M183,1420v-7h17v7M221,1414v-7h17v7M259,1459v-7h17v7M297,1452v-7h17v7M335,1336v-7h17v7M373,1398v-7h17v7M411,1440v-7h17v7M449,1412v-7h17v7M487,1328v-7h17v7M525,1476v-7h17v7M563,1459v-7h17v7"/>
</g>
<g class="t22 mid">
<text x="153" y="1224">ns</text><text x="191" y="1410">**</text><text x="229" y="1402">ns</text><text x="267" y="1447">ns</text><text x="305" y="1440">ns</text><text x="343" y="1324">ns</text><text x="381" y="1386">ns</text><text x="419" y="1430">*</text><text x="457" y="1400">ns</text><text x="495" y="1316">ns</text><text x="533" y="1464">ns</text><text x="571" y="1447">ns</text>
</g>
<rect x="398" y="1219" width="46" height="24" fill="#d6d23e"/>
<rect x="398" y="1254" width="46" height="24" fill="#3d8fdb"/>
<text class="t24" x="458" y="1240">2,766 genes</text>
<text class="t24" x="458" y="1275">64 genes</text>
<g class="t24 end">
<text transform="translate(158,1514) rotate(-55)">CTX-Ex</text><text transform="translate(196,1514) rotate(-55)">Inh</text><text transform="translate(234,1514) rotate(-55)">CA1</text><text transform="translate(272,1514) rotate(-55)">CA2</text><text transform="translate(310,1514) rotate(-55)">CA3</text><text transform="translate(348,1514) rotate(-55)">DG</text><text transform="translate(386,1514) rotate(-55)">Astro</text><text transform="translate(424,1514) rotate(-55)">Endo</text><text transform="translate(462,1514) rotate(-55)">Micro</text><text transform="translate(500,1514) rotate(-55)">Oligo</text><text transform="translate(538,1514) rotate(-55)">OPC</text><text transform="translate(576,1514) rotate(-55)">SMC</text>
</g>

<!-- ===== Panel e ===== -->
<text class="lab" x="637" y="1215">e</text>
<text class="t24 mid" x="856" y="1238">Validation dataset (Gfap expression)</text>
<g filter="url(#spkE)">
<g transform="translate(677,1282) scale(0.983,1.115)">
<use xlink:href="#umbg" fill="#b4b4f2" opacity=".6"/>
<use xlink:href="#umcl" fill="#8282ee"/>
<ellipse cx="222" cy="45" rx="55" ry="16" fill="#f0a8b0" transform="rotate(-25 222 45)"/>
<ellipse cx="322" cy="62" rx="14" ry="11" fill="#f09aa0"/>
<ellipse cx="326" cy="96" rx="22" ry="17" fill="#f09aa0"/>
<ellipse cx="290" cy="80" rx="30" ry="25" fill="#f0b0b8"/>
<ellipse cx="255" cy="135" rx="55" ry="24" fill="#dcb8e0"/>
</g>
</g>
<rect x="1050" y="1269" width="10" height="279" fill="url(#gE)"/>
<g stroke="#333" stroke-width="1"><path d="M1060,1282h5M1060,1338h5M1060,1393h5M1060,1447h5M1060,1503h5"/></g>
<g class="t22"><text x="1068" y="1290">3</text><text x="1068" y="1346">2</text><text x="1068" y="1401">1</text><text x="1068" y="1455">0</text><text x="1068" y="1511">-1</text></g>

<!-- ===== Panel f ===== -->
<text class="lab" x="1100" y="1215">f</text>
<text class="t24 mid" x="1335" y="1238">Validation dataset (GFAP protein)</text>
<g filter="url(#spkE)">
<g transform="translate(1145,1282) scale(1.003,1.133)">
<use xlink:href="#umbg" fill="#8a70a8" opacity=".8"/>
<use xlink:href="#umcl" fill="#4a1870"/>
<ellipse cx="322" cy="62" rx="14" ry="11" fill="#2f7f95"/>
<ellipse cx="326" cy="96" rx="22" ry="17" fill="#2f7f95"/>
<ellipse cx="262" cy="85" rx="26" ry="16" fill="#3a6a92"/>
<ellipse cx="295" cy="80" rx="26" ry="22" fill="#5a8aa8"/>
</g>
</g>
<rect x="1529" y="1267" width="10" height="284" fill="url(#gV)"/>
<g stroke="#333" stroke-width="1"><path d="M1539,1268h5M1539,1325h5M1539,1382h5M1539,1437h5M1539,1493h5M1539,1548h5"/></g>
<g class="t22"><text x="1546" y="1276">1.0</text><text x="1546" y="1333">0.8</text><text x="1546" y="1390">0.6</text><text x="1546" y="1445">0.4</text><text x="1546" y="1501">0.2</text><text x="1546" y="1556">0.0</text></g>

<!-- ===== Panel g ===== -->
<text class="lab" x="1615" y="1217">g</text>
<path d="M1723,1223H1961M1723,1528H1961" stroke="#555" stroke-width="3"/>
<path d="M1723,1223V1528" stroke="#555" stroke-width="1.5"/>
<g stroke="#333" stroke-width="1.5"><path d="M1717,1502h6M1717,1458h6M1717,1414h6M1717,1370h6M1717,1326h6M1717,1283h6"/></g>
<g class="t24 end"><text x="1713" y="1510">0.0</text><text x="1713" y="1466">0.2</text><text x="1713" y="1422">0.4</text><text x="1713" y="1378">0.6</text><text x="1713" y="1334">0.8</text><text x="1713" y="1291">1.0</text></g>
<text class="t26 mid" transform="translate(1664,1377) rotate(-90)">GFAP protein signal</text>
<path d="M1773,1281L1773.5,1283L1774,1327L1775,1349L1778,1371L1785,1392L1795,1414L1803,1436L1807,1458L1811,1480L1815,1495L1814,1502L1803,1513L1777,1524L1773,1527L1769,1524L1743,1513L1732,1502L1731,1495L1735,1480L1739,1458L1743,1436L1751,1414L1761,1392L1768,1371L1771,1349L1772,1327L1772.5,1283Z" fill="#38cc38" stroke="#2a6a2a" stroke-width="1.5"/>
<path d="M1773,1425V1487" stroke="#555" stroke-width="3"/>
<path d="M1880,1298L1880.5,1371L1881.5,1436L1884,1458L1888,1469L1894,1480L1904,1491L1912,1498L1908,1502L1895,1506L1880,1511L1865,1506L1852,1502L1848,1498L1856,1491L1866,1480L1872,1469L1876,1458L1878.5,1436L1879.5,1371Z" fill="#b01e5a" stroke="#6a1030" stroke-width="1.5"/>
<path d="M1773,1252V1246H1880V1252" fill="none" stroke="#555" stroke-width="2.5"/>
<text class="t22 mid" x="1826" y="1243">****</text>
<g class="t24 mid"><text x="1786" y="1562">Astrocyte</text><text x="1886" y="1562">Others</text></g>

<!-- ===== Panel h ===== -->
<text class="lab" x="6" y="1605">h</text>
<text class="t28 mid" x="227" y="1630">Raw data</text>
<rect x="26" y="1640" width="413" height="412" fill="#020302"/>
<rect x="26" y="1640" width="413" height="412" fill="url(#fibR)"/>
<g fill="#1a2a9a" opacity=".8"><ellipse cx="100" cy="1668" rx="75" ry="30"/><ellipse cx="270" cy="1652" rx="26" ry="14"/><ellipse cx="200" cy="1648" rx="30" ry="10"/></g>
<g stroke="#33c233" stroke-width="2" stroke-linecap="round">
<use xlink:href="#ast" transform="translate(377,1704) scale(.95)"/>
<use xlink:href="#ast" transform="translate(285,1770) scale(1.05) rotate(20)"/>
<use xlink:href="#ast" transform="translate(353,1940) scale(1) rotate(-30)"/>
<use xlink:href="#ast" transform="translate(52,2028) scale(.8) rotate(50)"/>
<use xlink:href="#ast" transform="translate(90,1730) scale(.75) rotate(80)"/>
<use xlink:href="#ast" transform="translate(150,1900) scale(.8) rotate(-60)"/>
<use xlink:href="#ast" transform="translate(230,1985) scale(.7) rotate(110)"/>
<use xlink:href="#ast" transform="translate(200,1760) scale(.6) rotate(140)"/>
<use xlink:href="#ast" transform="translate(80,1850) scale(.65) rotate(200)"/>
</g>
<g fill="#2a4fd0">
<ellipse cx="184" cy="1826" rx="8" ry="28"/><ellipse cx="141" cy="1875" rx="16" ry="14"/><ellipse cx="353" cy="1782" rx="10" ry="15"/><ellipse cx="328" cy="1843" rx="10" ry="14"/><ellipse cx="307" cy="1888" rx="9" ry="11"/><ellipse cx="353" cy="1940" rx="11" ry="18"/><ellipse cx="285" cy="1761" rx="12" ry="16"/><ellipse cx="377" cy="1704" rx="14" ry="12"/><ellipse cx="52" cy="2028" rx="12" ry="14"/><ellipse cx="158" cy="1770" rx="6" ry="8"/><ellipse cx="45" cy="1705" rx="10" ry="12"/>
</g>
<g fill="#f2d800">
<polygon points="341,1692 341,1716 359,1704"/><polygon points="244,1754 244,1778 262,1766"/><polygon points="321,1890 321,1914 339,1902"/><polygon points="93,2014 93,2038 75,2026"/>
</g>
<rect x="26" y="1649" width="152" height="30" fill="#fff"/>
<text x="34" y="1673" style="font-size:26px;font-weight:bold"><tspan fill="#1a9a4a">GFAP</tspan><tspan fill="#111"> / </tspan><tspan fill="#1c2a9a">PI</tspan></text>
<rect x="363" y="2010" width="66" height="4" fill="#fff"/>
<text class="t24 mid" x="396" y="2043" style="fill:#fff">20 µm</text>
<text class="t28 mid" x="245" y="2111">Processed data</text>
<rect x="31" y="2124" width="413" height="410" fill="#fff"/>
<g fill="#e4e4e4"><ellipse cx="85" cy="2150" rx="45" ry="26"/><ellipse cx="180" cy="2172" rx="30" ry="18"/><ellipse cx="195" cy="2320" rx="16" ry="40"/><ellipse cx="140" cy="2372" rx="16" ry="22"/><ellipse cx="332" cy="2314" rx="13" ry="25"/><ellipse cx="318" cy="2360" rx="10" ry="14"/><ellipse cx="352" cy="2282" rx="12" ry="22"/><ellipse cx="358" cy="2420" rx="10" ry="22"/><ellipse cx="105" cy="2290" rx="18" ry="12"/><ellipse cx="230" cy="2470" rx="14" ry="18"/></g>
<rect x="31" y="2124" width="413" height="410" fill="url(#fibP)" opacity=".8"/>
<g stroke="#22cc22" stroke-width="2.6" stroke-linecap="round">
<use xlink:href="#ast" transform="translate(387,2183) scale(1.05)"/>
<use xlink:href="#ast" transform="translate(294,2247) scale(1) rotate(25)"/>
<use xlink:href="#ast" transform="translate(371,2384) scale(1) rotate(-20)"/>
<use xlink:href="#ast" transform="translate(58,2509) scale(.8) rotate(40)"/>
<use xlink:href="#ast" transform="translate(120,2270) scale(.7) rotate(90)"/>
<use xlink:href="#ast" transform="translate(90,2420) scale(.75) rotate(160)"/>
<use xlink:href="#ast" transform="translate(230,2400) scale(.7) rotate(-80)"/>
<use xlink:href="#ast" transform="translate(300,2480) scale(.6) rotate(200)"/>
</g>
<g fill="#1a50d0" stroke="#111" stroke-width="2">
<ellipse cx="387" cy="2183" rx="17" ry="19"/><ellipse cx="294" cy="2247" rx="16" ry="21"/><ellipse cx="371" cy="2384" rx="17" ry="21"/><ellipse cx="58" cy="2509" rx="15" ry="21"/>
</g>
<rect x="31" y="2124" width="413" height="410" fill="none" stroke="#333" stroke-width="2"/>
<text x="38" y="2157" style="font-size:26px;font-weight:bold"><tspan fill="#1a9a4a">GFAP</tspan><tspan fill="#111"> / </tspan><tspan fill="#2a2a90">Astro</tspan></text>
<rect x="365" y="2488" width="67" height="5" fill="#111"/>
<text class="t24 mid" x="398" y="2522">20 µm</text>

<!-- ===== Panel i ===== -->
<text class="lab" x="463" y="1605">i</text>
<text class="t25 mid" x="764" y="1630">TauPS2APP 8mo (validation)</text>
<rect x="594" y="1640" width="283" height="234" fill="#ebebeb"/>
<rect x="888" y="1640" width="69" height="234" fill="#ebebeb"/>
<g stroke="#fff" stroke-width="0.8"><path d="M594,1843H877M594,1799H877M594,1755H877M594,1711H877M594,1667H877M888,1843H957M888,1799H957M888,1755H957M888,1711H957M888,1667H957"/></g>
<g stroke="#fff" stroke-width="1.6"><path d="M594,1865H877M594,1821H877M594,1777H877M594,1733H877M594,1689H877M594,1645H877M888,1865H957M888,1821H957M888,1777H957M888,1733H957M888,1689H957M888,1645H957M626,1640V1874M680,1640V1874M733,1640V1874M786.5,1640V1874M839.5,1640V1874M924,1640V1874"/></g>
<g>
<rect x="603" y="1857.2" width="46" height="7.8" fill="#a8506a"/><rect x="603" y="1845.6" width="46" height="11.6" fill="#cc11cc"/><rect x="603" y="1844.3" width="46" height="1.3" fill="#7a10d0"/><rect x="603" y="1839.6" width="46" height="4.7" fill="#33dd22"/><rect x="603" y="1706.6" width="46" height="133" fill="#f5b400"/><rect x="603" y="1696.4" width="46" height="10.2" fill="#eaea10"/><rect x="603" y="1687.6" width="46" height="8.8" fill="#f5c8f5"/><rect x="603" y="1651.1" width="46" height="36.5" fill="#5fd9c8"/>
<rect x="656" y="1858" width="48" height="7" fill="#a8506a"/><rect x="656" y="1815.5" width="48" height="42.5" fill="#cc11cc"/><rect x="656" y="1810.8" width="48" height="4.7" fill="#7a10d0"/><rect x="656" y="1790.9" width="48" height="19.9" fill="#33dd22"/><rect x="656" y="1753.9" width="48" height="37" fill="#f5b400"/><rect x="656" y="1738.5" width="48" height="15.4" fill="#eaea10"/><rect x="656" y="1726" width="48" height="12.5" fill="#f5c8f5"/><rect x="656" y="1666.8" width="48" height="59.2" fill="#5fd9c8"/>
<rect x="710" y="1861.7" width="46" height="3.3" fill="#a8506a"/><rect x="710" y="1828" width="46" height="33.7" fill="#cc11cc"/><rect x="710" y="1824.3" width="46" height="3.7" fill="#7a10d0"/><rect x="710" y="1803.4" width="46" height="20.9" fill="#33dd22"/><rect x="710" y="1789.5" width="46" height="13.9" fill="#f5b400"/><rect x="710" y="1767.8" width="46" height="21.7" fill="#eaea10"/><rect x="710" y="1756.1" width="46" height="11.7" fill="#f5c8f5"/><rect x="710" y="1680.6" width="46" height="75.5" fill="#5fd9c8"/><rect x="710" y="1679.3" width="46" height="1.3" fill="#5aaae8"/>
<rect x="763" y="1852.1" width="47" height="12.9" fill="#a8506a"/><rect x="763" y="1811.8" width="47" height="40.3" fill="#cc11cc"/><rect x="763" y="1807.5" width="47" height="4.3" fill="#7a10d0"/><rect x="763" y="1780.7" width="47" height="26.8" fill="#33dd22"/><rect x="763" y="1767.8" width="47" height="12.9" fill="#f5b400"/><rect x="763" y="1745.5" width="47" height="22.3" fill="#eaea10"/><rect x="763" y="1730.7" width="47" height="14.8" fill="#f5c8f5"/><rect x="763" y="1665" width="47" height="65.7" fill="#5fd9c8"/>
<rect x="816" y="1856.6" width="47" height="8.4" fill="#a8506a"/><rect x="816" y="1809.4" width="47" height="47.2" fill="#cc11cc"/><rect x="816" y="1805.7" width="47" height="3.7" fill="#7a10d0"/><rect x="816" y="1780.7" width="47" height="25" fill="#33dd22"/><rect x="816" y="1765.4" width="47" height="15.3" fill="#f5b400"/><rect x="816" y="1744.6" width="47" height="20.8" fill="#eaea10"/><rect x="816" y="1730.7" width="47" height="13.9" fill="#f5c8f5"/><rect x="816" y="1653.4" width="47" height="77.3" fill="#5fd9c8"/>
<rect x="900" y="1856.6" width="48" height="8.4" fill="#a8506a"/><rect x="900" y="1828" width="48" height="28.6" fill="#cc11cc"/><rect x="900" y="1824.7" width="48" height="3.3" fill="#7a10d0"/><rect x="900" y="1804.8" width="48" height="19.9" fill="#33dd22"/><rect x="900" y="1790.9" width="48" height="13.9" fill="#f5b400"/><rect x="900" y="1771.5" width="48" height="19.4" fill="#eaea10"/><rect x="900" y="1761.7" width="48" height="9.8" fill="#f5c8f5"/><rect x="900" y="1710.7" width="48" height="51" fill="#5fd9c8"/><rect x="900" y="1701.9" width="48" height="8.8" fill="#5aaae8"/><rect x="900" y="1698.2" width="48" height="3.7" fill="#e04040"/><rect x="900" y="1680.6" width="48" height="17.6" fill="#b0a5f0"/>
</g>
<g fill="#fff8d8" opacity=".85"><rect x="607" y="1751" width="38" height="15"/><rect x="667" y="1768" width="27" height="15"/><rect x="727" y="1716" width="12" height="14"/><rect x="780" y="1733" width="12" height="14"/><rect x="833" y="1694" width="12" height="14"/><rect x="833" y="1829" width="12" height="14"/></g>
<g class="t20 mid"><text x="626" y="1768">****</text><text x="680" y="1785">***</text><text x="733" y="1733">*</text><text x="786" y="1750">*</text><text x="839" y="1711">*</text><text x="839" y="1846">*</text></g>
<g class="t24 end"><text x="588" y="1873">0</text><text x="588" y="1829">500</text><text x="588" y="1785">1000</text><text x="588" y="1741">1500</text><text x="588" y="1697">2000</text><text x="588" y="1653">2500</text></g>
<text class="t25 mid" transform="translate(512,1752) rotate(-90)"># cells per mm²</text>
<g class="t24 end"><text transform="translate(636,1888) rotate(-45)">0-10</text><text transform="translate(690,1888) rotate(-45)">10-20</text><text transform="translate(743,1888) rotate(-45)">20-30</text><text transform="translate(796,1888) rotate(-45)">30-40</text><text transform="translate(849,1888) rotate(-45)">40-50</text><text transform="translate(934,1888) rotate(-45)">Overall</text></g>
<text class="t24 mid" x="770" y="1968">Distance to plaque (µm)</text>
<text class="t25 mid" x="771" y="2005">TauPS2APP 13mo (validation)</text>
<rect x="594" y="2015" width="283" height="232" fill="#ebebeb"/>
<rect x="888" y="2015" width="69" height="232" fill="#ebebeb"/>
<g stroke="#fff" stroke-width="0.8"><path d="M594,2203.2H877M594,2131.5H877M594,2059.8H877M888,2203.2H957M888,2131.5H957M888,2059.8H957"/></g>
<g stroke="#fff" stroke-width="1.6"><path d="M594,2239H877M594,2167.3H877M594,2095.6H877M594,2023.9H877M888,2239H957M888,2167.3H957M888,2095.6H957M888,2023.9H957M626,2015V2247M680,2015V2247M733,2015V2247M786.5,2015V2247M839.5,2015V2247M924,2015V2247"/></g>
<g>
<rect x="603" y="2231.2" width="46" height="7.8" fill="#a8506a"/><rect x="603" y="2206.8" width="46" height="24.4" fill="#cc11cc"/><rect x="603" y="2206" width="46" height=".8" fill="#7a10d0"/><rect x="603" y="2199" width="46" height="7" fill="#33dd22"/><rect x="603" y="2058.5" width="46" height="140.5" fill="#f5b400"/><rect x="603" y="2053.9" width="46" height="4.6" fill="#eaea10"/><rect x="603" y="2050.3" width="46" height="3.6" fill="#f5c8f5"/><rect x="603" y="2025.4" width="46" height="24.9" fill="#5fd9c8"/>
<rect x="656" y="2231.8" width="48" height="7.2" fill="#a8506a"/><rect x="656" y="2199" width="48" height="32.8" fill="#cc11cc"/><rect x="656" y="2198.1" width="48" height=".9" fill="#7a10d0"/><rect x="656" y="2170" width="48" height="28.1" fill="#33dd22"/><rect x="656" y="2151.5" width="48" height="18.5" fill="#f5b400"/><rect x="656" y="2138.2" width="48" height="13.3" fill="#eaea10"/><rect x="656" y="2128.5" width="48" height="9.7" fill="#f5c8f5"/><rect x="656" y="2074.7" width="48" height="53.8" fill="#5fd9c8"/>
<rect x="710" y="2231.8" width="46" height="7.2" fill="#a8506a"/><rect x="710" y="2199.9" width="46" height="31.9" fill="#cc11cc"/><rect x="710" y="2198.8" width="46" height="1.1" fill="#7a10d0"/><rect x="710" y="2176.8" width="46" height="22" fill="#33dd22"/><rect x="710" y="2164.4" width="46" height="12.4" fill="#f5b400"/><rect x="710" y="2150.6" width="46" height="13.8" fill="#eaea10"/><rect x="710" y="2139.1" width="46" height="11.5" fill="#f5c8f5"/><rect x="710" y="2083" width="46" height="56.1" fill="#5fd9c8"/><rect x="710" y="2081.6" width="46" height="1.4" fill="#5aaae8"/>
<rect x="763" y="2231.1" width="47" height="7.9" fill="#a8506a"/><rect x="763" y="2203.6" width="47" height="27.5" fill="#cc11cc"/><rect x="763" y="2202.4" width="47" height="1.2" fill="#7a10d0"/><rect x="763" y="2184.2" width="47" height="18.2" fill="#33dd22"/><rect x="763" y="2172.7" width="47" height="11.5" fill="#f5b400"/><rect x="763" y="2158.9" width="47" height="13.8" fill="#eaea10"/><rect x="763" y="2150.6" width="47" height="8.3" fill="#f5c8f5"/><rect x="763" y="2088.5" width="47" height="62.1" fill="#5fd9c8"/><rect x="763" y="2087.7" width="47" height=".8" fill="#5aaae8"/>
<rect x="816" y="2231.8" width="47" height="7.2" fill="#a8506a"/><rect x="816" y="2204.9" width="47" height="26.9" fill="#cc11cc"/><rect x="816" y="2203.9" width="47" height="1" fill="#7a10d0"/><rect x="816" y="2181.9" width="47" height="22" fill="#33dd22"/><rect x="816" y="2167.7" width="47" height="14.2" fill="#f5b400"/><rect x="816" y="2155.3" width="47" height="12.4" fill="#eaea10"/><rect x="816" y="2144.6" width="47" height="10.7" fill="#f5c8f5"/><rect x="816" y="2081.5" width="47" height="63.1" fill="#5fd9c8"/><rect x="816" y="2080.2" width="47" height="1.3" fill="#5aaae8"/>
<rect x="900" y="2231.8" width="48" height="7.2" fill="#a8506a"/><rect x="900" y="2199" width="48" height="32.8" fill="#cc11cc"/><rect x="900" y="2198.1" width="48" height=".9" fill="#7a10d0"/><rect x="900" y="2179.1" width="48" height="19" fill="#33dd22"/><rect x="900" y="2163.5" width="48" height="15.6" fill="#f5b400"/><rect x="900" y="2152" width="48" height="11.5" fill="#eaea10"/><rect x="900" y="2143.7" width="48" height="8.3" fill="#f5c8f5"/><rect x="900" y="2093.1" width="48" height="50.6" fill="#5fd9c8"/><rect x="900" y="2088.5" width="48" height="4.6" fill="#5aaae8"/><rect x="900" y="2085.3" width="48" height="3.2" fill="#e04040"/><rect x="900" y="2076" width="48" height="9.3" fill="#b0a5f0"/>
</g>
<g fill="#fff8d8" opacity=".85"><rect x="607" y="2130" width="38" height="15"/><rect x="670" y="2180" width="21" height="15"/><rect x="727" y="2110" width="12" height="14"/><rect x="776" y="2112" width="21" height="15"/><rect x="829" y="2108" width="21" height="15"/><rect x="833" y="2144" width="12" height="14"/></g>
<g class="t20 mid"><text x="626" y="2147">****</text><text x="680" y="2197">**</text><text x="733" y="2127">*</text><text x="786" y="2129">**</text><text x="839" y="2125">**</text><text x="839" y="2161">*</text></g>
<g class="t24 end"><text x="588" y="2247">0</text><text x="588" y="2175">1000</text><text x="588" y="2104">2000</text><text x="588" y="2032">3000</text></g>
<text class="t25 mid" transform="translate(512,2117) rotate(-90)"># cells per mm²</text>
<g class="t24 end"><text transform="translate(636,2260) rotate(-45)">0-10</text><text transform="translate(690,2260) rotate(-45)">10-20</text><text transform="translate(743,2260) rotate(-45)">20-30</text><text transform="translate(796,2260) rotate(-45)">30-40</text><text transform="translate(849,2260) rotate(-45)">40-50</text><text transform="translate(934,2260) rotate(-45)">Overall</text></g>
<text class="t24 mid" x="770" y="2331">Distance to plaque (µm)</text>

<!-- ===== Panel j ===== -->
<text class="lab" x="462" y="2357">j</text>
<g class="t24 mid"><text x="664" y="2372">2766 genes</text><text x="827" y="2372">Validation</text></g>
<path d="M578,2381H739M747,2381H900" stroke="#333" stroke-width="2"/>
<g>
<rect x="581" y="2529" width="36" height="7" fill="#7a10d0"/><rect x="581" y="2473.8" width="36" height="55.2" fill="#cc11cc"/><rect x="581" y="2462.3" width="36" height="11.5" fill="#f5b400"/><rect x="581" y="2426" width="36" height="36.3" fill="#33dd22"/>
<rect x="622" y="2529" width="36" height="7" fill="#7a10d0"/><rect x="622" y="2481.1" width="36" height="47.9" fill="#cc11cc"/><rect x="622" y="2462.3" width="36" height="18.8" fill="#f5b400"/><rect x="622" y="2431" width="36" height="31.3" fill="#33dd22"/>
<rect x="663" y="2529" width="36" height="7" fill="#7a10d0"/><rect x="663" y="2480.5" width="36" height="48.5" fill="#cc11cc"/><rect x="663" y="2469.9" width="36" height="10.6" fill="#f5b400"/><rect x="663" y="2441.5" width="36" height="28.4" fill="#33dd22"/>
<rect x="704" y="2528.4" width="36" height="7.6" fill="#7a10d0"/><rect x="704" y="2466.2" width="36" height="62.2" fill="#cc11cc"/><rect x="704" y="2436.6" width="36" height="29.6" fill="#f5b400"/><rect x="704" y="2400.3" width="36" height="36.3" fill="#33dd22"/>
<rect x="745" y="2528.4" width="36" height="7.6" fill="#7a10d0"/><rect x="745" y="2477.2" width="36" height="51.2" fill="#cc11cc"/><rect x="745" y="2462.3" width="36" height="14.9" fill="#f5b400"/><rect x="745" y="2427" width="36" height="35.3" fill="#33dd22"/>
<rect x="786" y="2528.4" width="36" height="7.6" fill="#7a10d0"/><rect x="786" y="2481.4" width="36" height="47" fill="#cc11cc"/><rect x="786" y="2455.7" width="36" height="25.7" fill="#f5b400"/><rect x="786" y="2422" width="36" height="33.7" fill="#33dd22"/>
<rect x="826" y="2528.4" width="36" height="7.6" fill="#7a10d0"/><rect x="826" y="2476.6" width="36" height="51.8" fill="#cc11cc"/><rect x="826" y="2462.3" width="36" height="14.3" fill="#f5b400"/><rect x="826" y="2429.9" width="36" height="32.4" fill="#33dd22"/>
<rect x="867" y="2528.4" width="36" height="7.6" fill="#7a10d0"/><rect x="867" y="2467.3" width="36" height="61.1" fill="#cc11cc"/><rect x="867" y="2432.6" width="36" height="34.7" fill="#f5b400"/><rect x="867" y="2393.9" width="36" height="38.7" fill="#33dd22"/>
</g>
<path d="M575,2387V2544H908" fill="none" stroke="#333" stroke-width="2"/>
<g stroke="#333" stroke-width="1.5"><path d="M569,2536h6M569,2498h6M569,2460h6M569,2422h6M599,2544v6M640,2544v6M681,2544v6M722,2544v6M763,2544v6M804,2544v6M844,2544v6M885,2544v6"/></g>
<g class="t24 end"><text x="566" y="2544">0</text><text x="566" y="2506">250</text><text x="566" y="2468">500</text><text x="566" y="2430">750</text></g>
<text class="t25 mid" transform="translate(509,2473) rotate(-90)"># cells per mm²</text>
<rect x="916" y="2433" width="26" height="24" fill="#33dd22"/><rect x="916" y="2461" width="26" height="24" fill="#f5b400"/><rect x="916" y="2487" width="26" height="25" fill="#cc11cc"/><rect x="916" y="2515" width="26" height="25" fill="#7a10d0"/>
<g class="t24"><text x="950" y="2453">Astro</text><text x="950" y="2481">Micro</text><text x="950" y="2507">Oligo</text><text x="950" y="2535">OPC</text></g>
<g class="t23 end">
<text transform="translate(609,2555) rotate(-45)">Control 8mo</text><text transform="translate(650,2555) rotate(-45)">TauPS2APP 8mo</text><text transform="translate(691,2555) rotate(-45)">Control 13mo</text><text transform="translate(732,2555) rotate(-45)">TauPS2APP 13mo</text><text transform="translate(773,2555) rotate(-45)">Control 8mo</text><text transform="translate(814,2555) rotate(-45)">TauPS2APP 8mo</text><text transform="translate(854,2555) rotate(-45)">Control 13mo</text><text transform="translate(895,2555) rotate(-45)">TauPS2APP 13mo</text>
</g>

<!-- ===== Panel k ===== -->
<text class="lab" x="1018" y="1605">k</text>
<g class="t24 mid"><text x="1185" y="1640">2766 genes</text><text x="1334" y="1640">Validation</text></g>
<g class="hm">
<g transform="translate(1091,1650)">
<rect x="0" y="0" width="39.25" height="25.6" class="o"/><rect x="39.25" y="0" width="39.25" height="25.6" class="p"/><rect x="78.5" y="0" width="39.25" height="25.6" class="s"/><rect x="117.75" y="0" width="39.25" height="25.6" class="b"/>
<rect x="0" y="25.6" width="39.25" height="25.6" class="k"/><rect x="39.25" y="25.6" width="39.25" height="25.6" class="B"/><rect x="78.5" y="25.6" width="39.25" height="25.6" class="o"/><rect x="117.75" y="25.6" width="39.25" height="25.6" class="w"/>
<rect x="0" y="51.2" width="39.25" height="25.6" class="o"/><rect x="39.25" y="51.2" width="39.25" height="25.6" class="b"/><rect x="78.5" y="51.2" width="39.25" height="25.6" class="s"/><rect x="117.75" y="51.2" width="39.25" height="25.6" class="p"/>
<rect x="0" y="76.8" width="39.25" height="25.6" class="k"/><rect x="39.25" y="76.8" width="39.25" height="25.6" class="B"/><rect x="78.5" y="76.8" width="39.25" height="25.6" class="o"/><rect x="117.75" y="76.8" width="39.25" height="25.6" class="w"/>
<rect x="0" y="102.4" width="39.25" height="25.6" class="b"/><rect x="39.25" y="102.4" width="39.25" height="25.6" class="s"/><rect x="78.5" y="102.4" width="39.25" height="25.6" class="b"/><rect x="117.75" y="102.4" width="39.25" height="25.6" class="o"/>
<rect x="0" y="128" width="39.25" height="25.6" class="p"/><rect x="39.25" y="128" width="39.25" height="25.6" class="l"/><rect x="78.5" y="128" width="39.25" height="25.6" class="p"/><rect x="117.75" y="128" width="39.25" height="25.6" class="r"/>
<rect x="0" y="153.6" width="39.25" height="25.6" class="b"/><rect x="39.25" y="153.6" width="39.25" height="25.6" class="s"/><rect x="78.5" y="153.6" width="39.25" height="25.6" class="b"/><rect x="117.75" y="153.6" width="39.25" height="25.6" class="o"/>
<rect x="0" y="179.2" width="39.25" height="25.6" class="b"/><rect x="39.25" y="179.2" width="39.25" height="25.6" class="s"/><rect x="78.5" y="179.2" width="39.25" height="25.6" class="b"/><rect x="117.75" y="179.2" width="39.25" height="25.6" class="o"/>
<rect x="0" y="204.8" width="39.25" height="25.6" class="b"/><rect x="39.25" y="204.8" width="39.25" height="25.6" class="l"/><rect x="78.5" y="204.8" width="39.25" height="25.6" class="w"/><rect x="117.75" y="204.8" width="39.25" height="25.6" class="r"/>
<rect x="0" y="230.4" width="39.25" height="25.6" class="p"/><rect x="39.25" y="230.4" width="39.25" height="25.6" class="l"/><rect x="78.5" y="230.4" width="39.25" height="25.6" class="p"/><rect x="117.75" y="230.4" width="39.25" height="25.6" class="r"/>
<rect x="0" y="256" width="39.25" height="25.6" class="b"/><rect x="39.25" y="256" width="39.25" height="25.6" class="k"/><rect x="78.5" y="256" width="39.25" height="25.6" class="l"/><rect x="117.75" y="256" width="39.25" height="25.6" class="r"/>
<rect x="0" y="281.6" width="39.25" height="25.6" class="p"/><rect x="39.25" y="281.6" width="39.25" height="25.6" class="s"/><rect x="78.5" y="281.6" width="39.25" height="25.6" class="b"/><rect x="117.75" y="281.6" width="39.25" height="25.6" class="o"/>
</g>
<g transform="translate(1258,1650)">
<rect x="0" y="0" width="39.25" height="25.6" class="o"/><rect x="39.25" y="0" width="39.25" height="25.6" class="l"/><rect x="78.5" y="0" width="39.25" height="25.6" class="k"/><rect x="117.75" y="0" width="39.25" height="25.6" class="B"/>
<rect x="0" y="25.6" width="39.25" height="25.6" class="l"/><rect x="39.25" y="25.6" width="39.25" height="25.6" class="r"/><rect x="78.5" y="25.6" width="39.25" height="25.6" class="l"/><rect x="117.75" y="25.6" width="39.25" height="25.6" class="b"/>
<rect x="0" y="51.2" width="39.25" height="25.6" class="s"/><rect x="39.25" y="51.2" width="39.25" height="25.6" class="o"/><rect x="78.5" y="51.2" width="39.25" height="25.6" class="w"/><rect x="117.75" y="51.2" width="39.25" height="25.6" class="B"/>
<rect x="0" y="76.8" width="39.25" height="25.6" class="k"/><rect x="39.25" y="76.8" width="39.25" height="25.6" class="l"/><rect x="78.5" y="76.8" width="39.25" height="25.6" class="o"/><rect x="117.75" y="76.8" width="39.25" height="25.6" class="B"/>
<rect x="0" y="102.4" width="39.25" height="25.6" class="b"/><rect x="39.25" y="102.4" width="39.25" height="25.6" class="o"/><rect x="78.5" y="102.4" width="39.25" height="25.6" class="b"/><rect x="117.75" y="102.4" width="39.25" height="25.6" class="s"/>
<rect x="0" y="128" width="39.25" height="25.6" class="b"/><rect x="39.25" y="128" width="39.25" height="25.6" class="o"/><rect x="78.5" y="128" width="39.25" height="25.6" class="b"/><rect x="117.75" y="128" width="39.25" height="25.6" class="s"/>
<rect x="0" y="153.6" width="39.25" height="25.6" class="p"/><rect x="39.25" y="153.6" width="39.25" height="25.6" class="o"/><rect x="78.5" y="153.6" width="39.25" height="25.6" class="b"/><rect x="117.75" y="153.6" width="39.25" height="25.6" class="s"/>
<rect x="0" y="179.2" width="39.25" height="25.6" class="p"/><rect x="39.25" y="179.2" width="39.25" height="25.6" class="o"/><rect x="78.5" y="179.2" width="39.25" height="25.6" class="b"/><rect x="117.75" y="179.2" width="39.25" height="25.6" class="k"/>
<rect x="0" y="204.8" width="39.25" height="25.6" class="b"/><rect x="39.25" y="204.8" width="39.25" height="25.6" class="o"/><rect x="78.5" y="204.8" width="39.25" height="25.6" class="p"/><rect x="117.75" y="204.8" width="39.25" height="25.6" class="s"/>
<rect x="0" y="230.4" width="39.25" height="25.6" class="b"/><rect x="39.25" y="230.4" width="39.25" height="25.6" class="o"/><rect x="78.5" y="230.4" width="39.25" height="25.6" class="p"/><rect x="117.75" y="230.4" width="39.25" height="25.6" class="s"/>
<rect x="0" y="256" width="39.25" height="25.6" class="b"/><rect x="39.25" y="256" width="39.25" height="25.6" class="o"/><rect x="78.5" y="256" width="39.25" height="25.6" class="p"/><rect x="117.75" y="256" width="39.25" height="25.6" class="s"/>
<rect x="0" y="281.6" width="39.25" height="25.6" class="b"/><rect x="39.25" y="281.6" width="39.25" height="25.6" class="s"/><rect x="78.5" y="281.6" width="39.25" height="25.6" class="p"/><rect x="117.75" y="281.6" width="39.25" height="25.6" class="o"/>
</g>
<g transform="translate(1091,1980)">
<rect x="0" y="0" width="39.25" height="25.6" class="k"/><rect x="39.25" y="0" width="39.25" height="25.6" class="l"/><rect x="78.5" y="0" width="39.25" height="25.6" class="b"/><rect x="117.75" y="0" width="39.25" height="25.6" class="o"/>
<rect x="0" y="25.6" width="39.25" height="25.6" class="k"/><rect x="39.25" y="25.6" width="39.25" height="25.6" class="B"/><rect x="78.5" y="25.6" width="39.25" height="25.6" class="s"/><rect x="117.75" y="25.6" width="39.25" height="25.6" class="s"/>
<rect x="0" y="51.2" width="39.25" height="25.6" class="b"/><rect x="39.25" y="51.2" width="39.25" height="25.6" class="k"/><rect x="78.5" y="51.2" width="39.25" height="25.6" class="p"/><rect x="117.75" y="51.2" width="39.25" height="25.6" class="o"/>
<rect x="0" y="76.8" width="39.25" height="25.6" class="p"/><rect x="39.25" y="76.8" width="39.25" height="25.6" class="l"/><rect x="78.5" y="76.8" width="39.25" height="25.6" class="p"/><rect x="117.75" y="76.8" width="39.25" height="25.6" class="r"/>
<rect x="0" y="102.4" width="39.25" height="25.6" class="b"/><rect x="39.25" y="102.4" width="39.25" height="25.6" class="o"/><rect x="78.5" y="102.4" width="39.25" height="25.6" class="p"/><rect x="117.75" y="102.4" width="39.25" height="25.6" class="k"/>
<rect x="0" y="128" width="39.25" height="25.6" class="l"/><rect x="39.25" y="128" width="39.25" height="25.6" class="l"/><rect x="78.5" y="128" width="39.25" height="25.6" class="p"/><rect x="117.75" y="128" width="39.25" height="25.6" class="r"/>
</g>
<g transform="translate(1258,1980)">
<rect x="0" y="0" width="39.25" height="25.6" class="b"/><rect x="39.25" y="0" width="39.25" height="25.6" class="o"/><rect x="78.5" y="0" width="39.25" height="25.6" class="p"/><rect x="117.75" y="0" width="39.25" height="25.6" class="k"/>
<rect x="0" y="25.6" width="39.25" height="25.6" class="l"/><rect x="39.25" y="25.6" width="39.25" height="25.6" class="o"/><rect x="78.5" y="25.6" width="39.25" height="25.6" class="b"/><rect x="117.75" y="25.6" width="39.25" height="25.6" class="k"/>
<rect x="0" y="51.2" width="39.25" height="25.6" class="p"/><rect x="39.25" y="51.2" width="39.25" height="25.6" class="w"/><rect x="78.5" y="51.2" width="39.25" height="25.6" class="l"/><rect x="117.75" y="51.2" width="39.25" height="25.6" class="r"/>
<rect x="0" y="76.8" width="39.25" height="25.6" class="p"/><rect x="39.25" y="76.8" width="39.25" height="25.6" class="w"/><rect x="78.5" y="76.8" width="39.25" height="25.6" class="p"/><rect x="117.75" y="76.8" width="39.25" height="25.6" class="r"/>
<rect x="0" y="102.4" width="39.25" height="25.6" class="p"/><rect x="39.25" y="102.4" width="39.25" height="25.6" class="r"/><rect x="78.5" y="102.4" width="39.25" height="25.6" class="p"/><rect x="117.75" y="102.4" width="39.25" height="25.6" class="w"/>
<rect x="0" y="128" width="39.25" height="25.6" class="b"/><rect x="39.25" y="128" width="39.25" height="25.6" class="s"/><rect x="78.5" y="128" width="39.25" height="25.6" class="p"/><rect x="117.75" y="128" width="39.25" height="25.6" class="o"/>
</g>
<g transform="translate(1091,2155)">
<rect x="0" y="0" width="39.25" height="25.6" class="k"/><rect x="39.25" y="0" width="39.25" height="25.6" class="B"/><rect x="78.5" y="0" width="39.25" height="25.6" class="s"/><rect x="117.75" y="0" width="39.25" height="25.6" class="w"/>
<rect x="0" y="25.6" width="39.25" height="25.6" class="l"/><rect x="39.25" y="25.6" width="39.25" height="25.6" class="l"/><rect x="78.5" y="25.6" width="39.25" height="25.6" class="b"/><rect x="117.75" y="25.6" width="39.25" height="25.6" class="r"/>
<rect x="0" y="51.2" width="39.25" height="25.6" class="p"/><rect x="39.25" y="51.2" width="39.25" height="25.6" class="k"/><rect x="78.5" y="51.2" width="39.25" height="25.6" class="b"/><rect x="117.75" y="51.2" width="39.25" height="25.6" class="r"/>
<rect x="0" y="76.8" width="39.25" height="25.6" class="p"/><rect x="39.25" y="76.8" width="39.25" height="25.6" class="l"/><rect x="78.5" y="76.8" width="39.25" height="25.6" class="l"/><rect x="117.75" y="76.8" width="39.25" height="25.6" class="r"/>
<rect x="0" y="102.4" width="39.25" height="25.6" class="p"/><rect x="39.25" y="102.4" width="39.25" height="25.6" class="l"/><rect x="78.5" y="102.4" width="39.25" height="25.6" class="p"/><rect x="117.75" y="102.4" width="39.25" height="25.6" class="r"/>
<rect x="0" y="128" width="39.25" height="25.6" class="s"/><rect x="39.25" y="128" width="39.25" height="25.6" class="k"/><rect x="78.5" y="128" width="39.25" height="25.6" class="B"/><rect x="117.75" y="128" width="39.25" height="25.6" class="k"/>
<rect x="0" y="153.6" width="39.25" height="25.6" class="p"/><rect x="39.25" y="153.6" width="39.25" height="25.6" class="k"/><rect x="78.5" y="153.6" width="39.25" height="25.6" class="b"/><rect x="117.75" y="153.6" width="39.25" height="25.6" class="o"/>
</g>
<g transform="translate(1258,2155)">
<rect x="0" y="0" width="39.25" height="25.6" class="k"/><rect x="39.25" y="0" width="39.25" height="25.6" class="r"/><rect x="78.5" y="0" width="39.25" height="25.6" class="b"/><rect x="117.75" y="0" width="39.25" height="25.6" class="p"/>
<rect x="0" y="25.6" width="39.25" height="25.6" class="w"/><rect x="39.25" y="25.6" width="39.25" height="25.6" class="k"/><rect x="78.5" y="25.6" width="39.25" height="25.6" class="B"/><rect x="117.75" y="25.6" width="39.25" height="25.6" class="o"/>
<rect x="0" y="51.2" width="39.25" height="25.6" class="p"/><rect x="39.25" y="51.2" width="39.25" height="25.6" class="l"/><rect x="78.5" y="51.2" width="39.25" height="25.6" class="p"/><rect x="117.75" y="51.2" width="39.25" height="25.6" class="r"/>
<rect x="0" y="76.8" width="39.25" height="25.6" class="p"/><rect x="39.25" y="76.8" width="39.25" height="25.6" class="p"/><rect x="78.5" y="76.8" width="39.25" height="25.6" class="p"/><rect x="117.75" y="76.8" width="39.25" height="25.6" class="r"/>
<rect x="0" y="102.4" width="39.25" height="25.6" class="p"/><rect x="39.25" y="102.4" width="39.25" height="25.6" class="p"/><rect x="78.5" y="102.4" width="39.25" height="25.6" class="p"/><rect x="117.75" y="102.4" width="39.25" height="25.6" class="r"/>
<rect x="0" y="128" width="39.25" height="25.6" class="p"/><rect x="39.25" y="128" width="39.25" height="25.6" class="w"/><rect x="78.5" y="128" width="39.25" height="25.6" class="b"/><rect x="117.75" y="128" width="39.25" height="25.6" class="r"/>
<rect x="0" y="153.6" width="39.25" height="25.6" class="p"/><rect x="39.25" y="153.6" width="39.25" height="25.6" class="o"/><rect x="78.5" y="153.6" width="39.25" height="25.6" class="b"/><rect x="117.75" y="153.6" width="39.25" height="25.6" class="s"/>
</g>
<g transform="translate(1091,2355)">
<rect x="0" y="0" width="39.25" height="25.6" class="p"/><rect x="39.25" y="0" width="39.25" height="25.6" class="r"/><rect x="78.5" y="0" width="39.25" height="25.6" class="l"/><rect x="117.75" y="0" width="39.25" height="25.6" class="p"/>
<rect x="0" y="25.6" width="39.25" height="25.6" class="l"/><rect x="39.25" y="25.6" width="39.25" height="25.6" class="r"/><rect x="78.5" y="25.6" width="39.25" height="25.6" class="p"/><rect x="117.75" y="25.6" width="39.25" height="25.6" class="l"/>
<rect x="0" y="51.2" width="39.25" height="25.6" class="l"/><rect x="39.25" y="51.2" width="39.25" height="25.6" class="o"/><rect x="78.5" y="51.2" width="39.25" height="25.6" class="b"/><rect x="117.75" y="51.2" width="39.25" height="25.6" class="k"/>
</g>
<g transform="translate(1258,2355)">
<rect x="0" y="0" width="39.25" height="25.6" class="w"/><rect x="39.25" y="0" width="39.25" height="25.6" class="r"/><rect x="78.5" y="0" width="39.25" height="25.6" class="p"/><rect x="117.75" y="0" width="39.25" height="25.6" class="b"/>
<rect x="0" y="25.6" width="39.25" height="25.6" class="w"/><rect x="39.25" y="25.6" width="39.25" height="25.6" class="s"/><rect x="78.5" y="25.6" width="39.25" height="25.6" class="B"/><rect x="117.75" y="25.6" width="39.25" height="25.6" class="s"/>
<rect x="0" y="51.2" width="39.25" height="25.6" class="p"/><rect x="39.25" y="51.2" width="39.25" height="25.6" class="r"/><rect x="78.5" y="51.2" width="39.25" height="25.6" class="p"/><rect x="117.75" y="51.2" width="39.25" height="25.6" class="l"/>
</g>
<g transform="translate(1091,2455)">
<rect x="0" y="0" width="39.25" height="25.6" class="p"/><rect x="39.25" y="0" width="39.25" height="25.6" class="r"/><rect x="78.5" y="0" width="39.25" height="25.6" class="l"/><rect x="117.75" y="0" width="39.25" height="25.6" class="p"/>
<rect x="0" y="25.6" width="39.25" height="25.6" class="p"/><rect x="39.25" y="25.6" width="39.25" height="25.6" class="s"/><rect x="78.5" y="25.6" width="39.25" height="25.6" class="b"/><rect x="117.75" y="25.6" width="39.25" height="25.6" class="s"/>
</g>
<g transform="translate(1258,2455)">
<rect x="0" y="0" width="39.25" height="25.6" class="l"/><rect x="39.25" y="0" width="39.25" height="25.6" class="r"/><rect x="78.5" y="0" width="39.25" height="25.6" class="l"/><rect x="117.75" y="0" width="39.25" height="25.6" class="b"/>
<rect x="0" y="25.6" width="39.25" height="25.6" class="p"/><rect x="39.25" y="25.6" width="39.25" height="25.6" class="l"/><rect x="78.5" y="25.6" width="39.25" height="25.6" class="p"/><rect x="117.75" y="25.6" width="39.25" height="25.6" class="r"/>
</g>
<g transform="translate(1091,2528)">
<rect x="0" y="0" width="39.25" height="25.6" class="l"/><rect x="39.25" y="0" width="39.25" height="25.6" class="s"/><rect x="78.5" y="0" width="39.25" height="25.6" class="b"/><rect x="117.75" y="0" width="39.25" height="25.6" class="k"/>
</g>
<g transform="translate(1258,2528)">
<rect x="0" y="0" width="39.25" height="25.6" class="p"/><rect x="39.25" y="0" width="39.25" height="25.6" class="p"/><rect x="78.5" y="0" width="39.25" height="25.6" class="p"/><rect x="117.75" y="0" width="39.25" height="25.6" class="r"/>
</g>
</g>
<g class="t24 it">
<text x="1423" y="1670.8">P2ry12</text><text x="1423" y="1696.4">Calm1</text><text x="1423" y="1722">Gpr34</text><text x="1423" y="1747.6">Tgfbr1</text><text x="1423" y="1773.2">Cst7</text><text x="1423" y="1798.8">Apoe</text><text x="1423" y="1824.4">Ctsb</text><text x="1423" y="1850">Cd9</text><text x="1423" y="1875.6">C1qa</text><text x="1423" y="1901.2">Trem2</text><text x="1423" y="1926.8">Cd83</text><text x="1423" y="1952.4">Ctss</text>
<text x="1423" y="2000.8">Aldoc</text><text x="1423" y="2026.4">Cst3</text><text x="1423" y="2052">Gfap</text><text x="1423" y="2077.6">Vim</text><text x="1423" y="2103.2">Aqp4</text><text x="1423" y="2128.8">Cd63</text>
<text x="1423" y="2175.8">Plp1</text><text x="1423" y="2201.4">Cldn11</text><text x="1423" y="2227">Klk6</text><text x="1423" y="2252.6">Serpina3n</text><text x="1423" y="2278.2">C4b</text><text x="1423" y="2303.8">Cdkn1a</text><text x="1423" y="2329.4">Cd9</text>
<text x="1423" y="2375.8">Gpm6a</text><text x="1423" y="2401.4">Ddit3</text><text x="1423" y="2427">Ccnb2</text>
<text x="1423" y="2475.8">Gpm6a</text><text x="1423" y="2501.4">Ccnb2</text>
<text x="1423" y="2548.8">Ccnb2</text>
</g>
<g class="t22 mid">
<text transform="translate(1052,1808) rotate(-90)">Microglia</text>
<text transform="translate(1052,2057) rotate(-90)">Astrocyte</text>
<text transform="translate(1052,2232) rotate(-90)">Oligodendrocyte</text>
<text transform="translate(1052,2378) rotate(-90)">Excitatory</text>
<text transform="translate(1076,2378) rotate(-90)">neuron</text>
<text transform="translate(1052,2478) rotate(-90)">Inhibitory</text>
<text transform="translate(1076,2478) rotate(-90)">neuron</text>
<text transform="translate(1052,2543) rotate(-90)">DG</text>
</g>
<g class="t24 end">
<text transform="translate(1121,2568) rotate(-45)">Control 8mo</text><text transform="translate(1160,2568) rotate(-45)">TauPS2APP 8mo</text><text transform="translate(1199,2568) rotate(-45)">Control 13mo</text><text transform="translate(1238,2568) rotate(-45)">TauPS2APP 13mo</text>
<text transform="translate(1288,2568) rotate(-45)">Control 8mo</text><text transform="translate(1327,2568) rotate(-45)">TauPS2APP 8mo</text><text transform="translate(1366,2568) rotate(-45)">Control 13mo</text><text transform="translate(1405,2568) rotate(-45)">TauPS2APP 13mo</text>
</g>
<text class="t24 mid" x="1425" y="2645">z-score</text>
<rect x="1397" y="2652" width="59" height="9" fill="url(#gZ)"/>
<g class="t24 mid"><text x="1397" y="2686">-2.0</text><text x="1457" y="2686">2.0</text></g>

<!-- ===== Panel l ===== -->
<text class="lab" x="1535" y="1600">l</text>
<text class="t24 mid" x="1710" y="1630">TauPS2APP 8mo (validation)</text>
<g class="hm" transform="translate(1563,1652)">
<rect x="0" y="0" width="44.8" height="27.5" class="o"/><rect x="44.8" y="0" width="44.8" height="27.5" class="k"/><rect x="89.6" y="0" width="44.8" height="27.5" class="ll"/><rect x="134.4" y="0" width="44.8" height="27.5" class="ll"/><rect x="179.2" y="0" width="44.8" height="27.5" class="b"/>
<rect x="0" y="27.5" width="44.8" height="27.5" class="k"/><rect x="44.8" y="27.5" width="44.8" height="27.5" class="s"/><rect x="89.6" y="27.5" width="44.8" height="27.5" class="s"/><rect x="134.4" y="27.5" width="44.8" height="27.5" class="lp"/><rect x="179.2" y="27.5" width="44.8" height="27.5" class="lB"/>
<rect x="0" y="55" width="44.8" height="27.5" class="r"/><rect x="44.8" y="55" width="44.8" height="27.5" class="ll"/><rect x="89.6" y="55" width="44.8" height="27.5" class="ll"/><rect x="134.4" y="55" width="44.8" height="27.5" class="ll"/><rect x="179.2" y="55" width="44.8" height="27.5" class="lb"/>
<rect x="0" y="82.5" width="44.8" height="27.5" class="r"/><rect x="44.8" y="82.5" width="44.8" height="27.5" class="ll"/><rect x="89.6" y="82.5" width="44.8" height="27.5" class="ll"/><rect x="134.4" y="82.5" width="44.8" height="27.5" class="ll"/><rect x="179.2" y="82.5" width="44.8" height="27.5" class="lb"/>
<rect x="0" y="110" width="44.8" height="27.5" class="r"/><rect x="44.8" y="110" width="44.8" height="27.5" class="ll"/><rect x="89.6" y="110" width="44.8" height="27.5" class="ll"/><rect x="134.4" y="110" width="44.8" height="27.5" class="ll"/><rect x="179.2" y="110" width="44.8" height="27.5" class="lp"/>
<rect x="0" y="137.5" width="44.8" height="27.5" class="r"/><rect x="44.8" y="137.5" width="44.8" height="27.5" class="ll"/><rect x="89.6" y="137.5" width="44.8" height="27.5" class="ll"/><rect x="134.4" y="137.5" width="44.8" height="27.5" class="lp"/><rect x="179.2" y="137.5" width="44.8" height="27.5" class="lp"/>
<rect x="0" y="165" width="44.8" height="27.5" class="r"/><rect x="44.8" y="165" width="44.8" height="27.5" class="ll"/><rect x="89.6" y="165" width="44.8" height="27.5" class="lp"/><rect x="134.4" y="165" width="44.8" height="27.5" class="lp"/><rect x="179.2" y="165" width="44.8" height="27.5" class="lp"/>
<rect x="0" y="192.5" width="44.8" height="27.5" class="r"/><rect x="44.8" y="192.5" width="44.8" height="27.5" class="w"/><rect x="89.6" y="192.5" width="44.8" height="27.5" class="lp"/><rect x="134.4" y="192.5" width="44.8" height="27.5" class="lp"/><rect x="179.2" y="192.5" width="44.8" height="27.5" class="lp"/>
<rect x="0" y="220" width="44.8" height="27.5" class="r"/><rect x="44.8" y="220" width="44.8" height="27.5" class="w"/><rect x="89.6" y="220" width="44.8" height="27.5" class="lp"/><rect x="134.4" y="220" width="44.8" height="27.5" class="lp"/><rect x="179.2" y="220" width="44.8" height="27.5" class="lp"/>
<rect x="0" y="247.5" width="44.8" height="27.5" class="r"/><rect x="44.8" y="247.5" width="44.8" height="27.5" class="w"/><rect x="89.6" y="247.5" width="44.8" height="27.5" class="lp"/><rect x="134.4" y="247.5" width="44.8" height="27.5" class="lp"/><rect x="179.2" y="247.5" width="44.8" height="27.5" class="lp"/>
<rect x="0" y="275" width="44.8" height="27.5" class="r"/><rect x="44.8" y="275" width="44.8" height="27.5" class="ll"/><rect x="89.6" y="275" width="44.8" height="27.5" class="lp"/><rect x="134.4" y="275" width="44.8" height="27.5" class="lp"/><rect x="179.2" y="275" width="44.8" height="27.5" class="ll"/>
<rect x="0" y="302.5" width="44.8" height="27.5" class="r"/><rect x="44.8" y="302.5" width="44.8" height="27.5" class="lp"/><rect x="89.6" y="302.5" width="44.8" height="27.5" class="ll"/><rect x="134.4" y="302.5" width="44.8" height="27.5" class="lp"/><rect x="179.2" y="302.5" width="44.8" height="27.5" class="ll"/>
<rect x="0" y="330" width="44.8" height="27.5" class="r"/><rect x="44.8" y="330" width="44.8" height="27.5" class="lp"/><rect x="89.6" y="330" width="44.8" height="27.5" class="ll"/><rect x="134.4" y="330" width="44.8" height="27.5" class="lb"/><rect x="179.2" y="330" width="44.8" height="27.5" class="w"/>
<rect x="0" y="357.5" width="44.8" height="27.5" class="s"/><rect x="44.8" y="357.5" width="44.8" height="27.5" class="lb"/><rect x="89.6" y="357.5" width="44.8" height="27.5" class="lp"/><rect x="134.4" y="357.5" width="44.8" height="27.5" class="lb"/><rect x="179.2" y="357.5" width="44.8" height="27.5" class="o"/>
</g>
<g class="t24 it">
<text x="1797" y="1673.8">Gfap</text><text x="1797" y="1701.3">Tshz2</text><text x="1797" y="1728.8">Cd9</text><text x="1797" y="1756.3">Apoe</text><text x="1797" y="1783.8">Cd63</text><text x="1797" y="1811.3">Cst3</text><text x="1797" y="1838.8">Cst7</text><text x="1797" y="1866.3">Trem2</text><text x="1797" y="1893.8">Ctss</text><text x="1797" y="1921.3">C1qa</text><text x="1797" y="1948.8">P2ry12</text><text x="1797" y="1976.3">Ctsl</text><text x="1797" y="2003.8">Ctsb</text><text x="1797" y="2031.3">Tmsb4x</text>
</g>
<text class="t24 mid" x="1922" y="1933">z-value</text>
<rect x="1901" y="1944" width="18" height="95" fill="url(#gL)"/>
<g class="t24"><text x="1924" y="1954">2</text><text x="1924" y="1975">1</text><text x="1924" y="1999">0</text><text x="1917" y="2021">−1</text><text x="1917" y="2043">−2</text></g>
<g class="t24 end"><text transform="translate(1603,2060) rotate(-45)">0-10</text><text transform="translate(1648,2060) rotate(-45)">10-20</text><text transform="translate(1693,2060) rotate(-45)">20-30</text><text transform="translate(1738,2060) rotate(-45)">30-40</text><text transform="translate(1783,2060) rotate(-45)">&gt;40</text></g>
<text class="t24 mid" x="1677" y="2125">distance to plaque (µm)</text>

<!-- ===== Panel m ===== -->
<text class="lab" x="1533" y="2152">m</text>
<text class="t24 mid" x="1715" y="2180">TauPS2APP 13mo (validation)</text>
<g class="hm" transform="translate(1562,2193)">
<rect x="0" y="0" width="44.8" height="27.5" class="w"/><rect x="44.8" y="0" width="44.8" height="27.5" class="lp"/><rect x="89.6" y="0" width="44.8" height="27.5" class="lp"/><rect x="134.4" y="0" width="44.8" height="27.5" class="lp"/><rect x="179.2" y="0" width="44.8" height="27.5" class="r"/>
<rect x="0" y="27.5" width="44.8" height="27.5" class="r"/><rect x="44.8" y="27.5" width="44.8" height="27.5" class="lp"/><rect x="89.6" y="27.5" width="44.8" height="27.5" class="lb"/><rect x="134.4" y="27.5" width="44.8" height="27.5" class="ll"/><rect x="179.2" y="27.5" width="44.8" height="27.5" class="w"/>
<rect x="0" y="55" width="44.8" height="27.5" class="r"/><rect x="44.8" y="55" width="44.8" height="27.5" class="lp"/><rect x="89.6" y="55" width="44.8" height="27.5" class="lp"/><rect x="134.4" y="55" width="44.8" height="27.5" class="ll"/><rect x="179.2" y="55" width="44.8" height="27.5" class="ll"/>
<rect x="0" y="82.5" width="44.8" height="27.5" class="r"/><rect x="44.8" y="82.5" width="44.8" height="27.5" class="w"/><rect x="89.6" y="82.5" width="44.8" height="27.5" class="ll"/><rect x="134.4" y="82.5" width="44.8" height="27.5" class="lb"/><rect x="179.2" y="82.5" width="44.8" height="27.5" class="lp"/>
<rect x="0" y="110" width="44.8" height="27.5" class="r"/><rect x="44.8" y="110" width="44.8" height="27.5" class="w"/><rect x="89.6" y="110" width="44.8" height="27.5" class="ll"/><rect x="134.4" y="110" width="44.8" height="27.5" class="lp"/><rect x="179.2" y="110" width="44.8" height="27.5" class="lb"/>
<rect x="0" y="137.5" width="44.8" height="27.5" class="r"/><rect x="44.8" y="137.5" width="44.8" height="27.5" class="w"/><rect x="89.6" y="137.5" width="44.8" height="27.5" class="ll"/><rect x="134.4" y="137.5" width="44.8" height="27.5" class="lp"/><rect x="179.2" y="137.5" width="44.8" height="27.5" class="lp"/>
<rect x="0" y="165" width="44.8" height="27.5" class="o"/><rect x="44.8" y="165" width="44.8" height="27.5" class="k"/><rect x="89.6" y="165" width="44.8" height="27.5" class="lp"/><rect x="134.4" y="165" width="44.8" height="27.5" class="lp"/><rect x="179.2" y="165" width="44.8" height="27.5" class="lb"/>
<rect x="0" y="192.5" width="44.8" height="27.5" class="r"/><rect x="44.8" y="192.5" width="44.8" height="27.5" class="ll"/><rect x="89.6" y="192.5" width="44.8" height="27.5" class="ll"/><rect x="134.4" y="192.5" width="44.8" height="27.5" class="lp"/><rect x="179.2" y="192.5" width="44.8" height="27.5" class="lp"/>
<rect x="0" y="220" width="44.8" height="27.5" class="r"/><rect x="44.8" y="220" width="44.8" height="27.5" class="ll"/><rect x="89.6" y="220" width="44.8" height="27.5" class="lp"/><rect x="134.4" y="220" width="44.8" height="27.5" class="lp"/><rect x="179.2" y="220" width="44.8" height="27.5" class="lp"/>
<rect x="0" y="247.5" width="44.8" height="27.5" class="r"/><rect x="44.8" y="247.5" width="44.8" height="27.5" class="ll"/><rect x="89.6" y="247.5" width="44.8" height="27.5" class="lp"/><rect x="134.4" y="247.5" width="44.8" height="27.5" class="lp"/><rect x="179.2" y="247.5" width="44.8" height="27.5" class="lp"/>
<rect x="0" y="275" width="44.8" height="27.5" class="r"/><rect x="44.8" y="275" width="44.8" height="27.5" class="ll"/><rect x="89.6" y="275" width="44.8" height="27.5" class="lp"/><rect x="134.4" y="275" width="44.8" height="27.5" class="lp"/><rect x="179.2" y="275" width="44.8" height="27.5" class="lp"/>
<rect x="0" y="302.5" width="44.8" height="27.5" class="r"/><rect x="44.8" y="302.5" width="44.8" height="27.5" class="ll"/><rect x="89.6" y="302.5" width="44.8" height="27.5" class="lp"/><rect x="134.4" y="302.5" width="44.8" height="27.5" class="lp"/><rect x="179.2" y="302.5" width="44.8" height="27.5" class="lp"/>
<rect x="0" y="330" width="44.8" height="27.5" class="r"/><rect x="44.8" y="330" width="44.8" height="27.5" class="ll"/><rect x="89.6" y="330" width="44.8" height="27.5" class="ll"/><rect x="134.4" y="330" width="44.8" height="27.5" class="lp"/><rect x="179.2" y="330" width="44.8" height="27.5" class="lp"/>
<rect x="0" y="357.5" width="44.8" height="27.5" class="s"/><rect x="44.8" y="357.5" width="44.8" height="27.5" class="s"/><rect x="89.6" y="357.5" width="44.8" height="27.5" class="s"/><rect x="134.4" y="357.5" width="44.8" height="27.5" class="b"/><rect x="179.2" y="357.5" width="44.8" height="27.5" class="lb"/>
<rect x="0" y="385" width="44.8" height="27.5" class="o"/><rect x="44.8" y="385" width="44.8" height="27.5" class="k"/><rect x="89.6" y="385" width="44.8" height="27.5" class="w"/><rect x="134.4" y="385" width="44.8" height="27.5" class="ll"/><rect x="179.2" y="385" width="44.8" height="27.5" class="lB"/>
</g>
<g class="t24 it">
<text x="1796" y="2214.8">Tmsb4x</text><text x="1796" y="2242.3">Cd83</text><text x="1796" y="2269.8">P2ry12</text><text x="1796" y="2297.3">Apoe</text><text x="1796" y="2324.8">Cd63</text><text x="1796" y="2352.3">Cst3</text><text x="1796" y="2379.8">Cd9</text><text x="1796" y="2407.3">Ctsb</text><text x="1796" y="2434.8">Trem2</text><text x="1796" y="2462.3">C1qa</text><text x="1796" y="2489.8">Ctss</text><text x="1796" y="2517.3">Cst7</text><text x="1796" y="2544.8">Ctsl</text><text x="1796" y="2572.3">Vim</text><text x="1796" y="2599.8">Gfap</text>
</g>
<text class="t24 mid" x="1920" y="2457">z-value</text>
<rect x="1893" y="2476" width="20" height="95" fill="url(#gL)"/>
<g class="t24"><text x="1917" y="2487">2</text><text x="1917" y="2509">1</text><text x="1917" y="2531">0</text><text x="1911" y="2554">−1</text><text x="1911" y="2577">−2</text></g>
<g class="t24 end"><text transform="translate(1602,2628) rotate(-45)">0-10</text><text transform="translate(1647,2628) rotate(-45)">10-20</text><text transform="translate(1692,2628) rotate(-45)">20-30</text><text transform="translate(1737,2628) rotate(-45)">30-40</text><text transform="translate(1782,2628) rotate(-45)">&gt;40</text></g>
<text class="t24 mid" x="1678" y="2695">distance to plaque (µm)</text>
</svg>
</body></html>
